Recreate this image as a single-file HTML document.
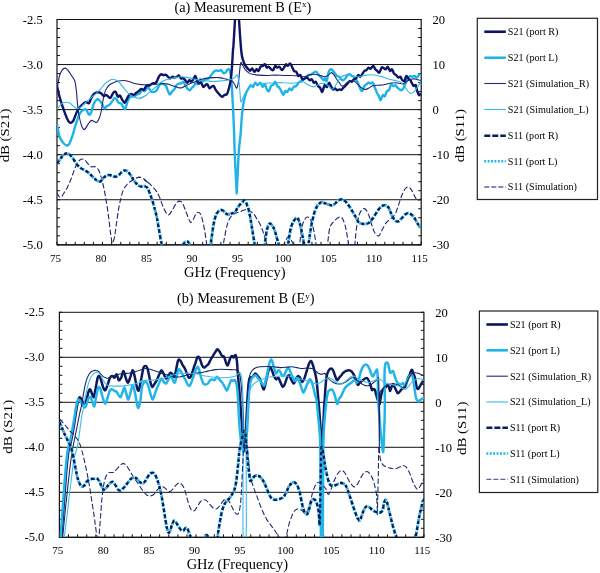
<!DOCTYPE html>
<html><head><meta charset="utf-8"><title>Measurement B</title>
<style>
html,body{margin:0;padding:0;background:#fff;}
body{width:600px;height:573px;overflow:hidden;font-family:"Liberation Serif",serif;}
svg{display:block;font-family:"Liberation Serif",serif;fill:#000;will-change:transform;opacity:0.9999;}
svg path, svg line, svg rect{shape-rendering:auto;}
</style></head><body>
<svg width="600" height="573" viewBox="0 0 600 573">
<rect x="0" y="0" width="600" height="573" fill="#fff" stroke="none"/>
<defs>
<clipPath id="ca"><rect x="57" y="19.5" width="364.2" height="225.3"/></clipPath>
<clipPath id="cb"><rect x="59.4" y="312.3" width="364.5" height="225"/></clipPath>
</defs>
<!-- chart (a) -->
<line x1="57" x2="421.2" y1="19.50" y2="19.50" stroke="#111" stroke-width="1"/>
<line x1="57" x2="421.2" y1="64.56" y2="64.56" stroke="#111" stroke-width="1"/>
<line x1="57" x2="421.2" y1="109.62" y2="109.62" stroke="#111" stroke-width="1"/>
<line x1="57" x2="421.2" y1="154.68" y2="154.68" stroke="#111" stroke-width="1"/>
<line x1="57" x2="421.2" y1="199.74" y2="199.74" stroke="#111" stroke-width="1"/>
<line x1="57" x2="421.2" y1="244.80" y2="244.80" stroke="#111" stroke-width="1"/>
<line x1="57" x2="57" y1="19.0" y2="245.3" stroke="#111" stroke-width="1.2"/>
<line x1="421.2" x2="421.2" y1="19.0" y2="245.3" stroke="#111" stroke-width="1.2"/>
<line x1="57" x2="421.2" y1="244.8" y2="244.8" stroke="#111" stroke-width="1.3"/>
<line x1="57" x2="60" y1="19.50" y2="19.50" stroke="#111" stroke-width="1"/>
<line x1="418.2" x2="421.2" y1="19.50" y2="19.50" stroke="#111" stroke-width="1"/>
<line x1="57" x2="60" y1="28.51" y2="28.51" stroke="#111" stroke-width="1"/>
<line x1="418.2" x2="421.2" y1="28.51" y2="28.51" stroke="#111" stroke-width="1"/>
<line x1="57" x2="60" y1="37.52" y2="37.52" stroke="#111" stroke-width="1"/>
<line x1="418.2" x2="421.2" y1="37.52" y2="37.52" stroke="#111" stroke-width="1"/>
<line x1="57" x2="60" y1="46.54" y2="46.54" stroke="#111" stroke-width="1"/>
<line x1="418.2" x2="421.2" y1="46.54" y2="46.54" stroke="#111" stroke-width="1"/>
<line x1="57" x2="60" y1="55.55" y2="55.55" stroke="#111" stroke-width="1"/>
<line x1="418.2" x2="421.2" y1="55.55" y2="55.55" stroke="#111" stroke-width="1"/>
<line x1="57" x2="60" y1="64.56" y2="64.56" stroke="#111" stroke-width="1"/>
<line x1="418.2" x2="421.2" y1="64.56" y2="64.56" stroke="#111" stroke-width="1"/>
<line x1="57" x2="60" y1="73.57" y2="73.57" stroke="#111" stroke-width="1"/>
<line x1="418.2" x2="421.2" y1="73.57" y2="73.57" stroke="#111" stroke-width="1"/>
<line x1="57" x2="60" y1="82.58" y2="82.58" stroke="#111" stroke-width="1"/>
<line x1="418.2" x2="421.2" y1="82.58" y2="82.58" stroke="#111" stroke-width="1"/>
<line x1="57" x2="60" y1="91.60" y2="91.60" stroke="#111" stroke-width="1"/>
<line x1="418.2" x2="421.2" y1="91.60" y2="91.60" stroke="#111" stroke-width="1"/>
<line x1="57" x2="60" y1="100.61" y2="100.61" stroke="#111" stroke-width="1"/>
<line x1="418.2" x2="421.2" y1="100.61" y2="100.61" stroke="#111" stroke-width="1"/>
<line x1="57" x2="60" y1="109.62" y2="109.62" stroke="#111" stroke-width="1"/>
<line x1="418.2" x2="421.2" y1="109.62" y2="109.62" stroke="#111" stroke-width="1"/>
<line x1="57" x2="60" y1="118.63" y2="118.63" stroke="#111" stroke-width="1"/>
<line x1="418.2" x2="421.2" y1="118.63" y2="118.63" stroke="#111" stroke-width="1"/>
<line x1="57" x2="60" y1="127.64" y2="127.64" stroke="#111" stroke-width="1"/>
<line x1="418.2" x2="421.2" y1="127.64" y2="127.64" stroke="#111" stroke-width="1"/>
<line x1="57" x2="60" y1="136.66" y2="136.66" stroke="#111" stroke-width="1"/>
<line x1="418.2" x2="421.2" y1="136.66" y2="136.66" stroke="#111" stroke-width="1"/>
<line x1="57" x2="60" y1="145.67" y2="145.67" stroke="#111" stroke-width="1"/>
<line x1="418.2" x2="421.2" y1="145.67" y2="145.67" stroke="#111" stroke-width="1"/>
<line x1="57" x2="60" y1="154.68" y2="154.68" stroke="#111" stroke-width="1"/>
<line x1="418.2" x2="421.2" y1="154.68" y2="154.68" stroke="#111" stroke-width="1"/>
<line x1="57" x2="60" y1="163.69" y2="163.69" stroke="#111" stroke-width="1"/>
<line x1="418.2" x2="421.2" y1="163.69" y2="163.69" stroke="#111" stroke-width="1"/>
<line x1="57" x2="60" y1="172.70" y2="172.70" stroke="#111" stroke-width="1"/>
<line x1="418.2" x2="421.2" y1="172.70" y2="172.70" stroke="#111" stroke-width="1"/>
<line x1="57" x2="60" y1="181.72" y2="181.72" stroke="#111" stroke-width="1"/>
<line x1="418.2" x2="421.2" y1="181.72" y2="181.72" stroke="#111" stroke-width="1"/>
<line x1="57" x2="60" y1="190.73" y2="190.73" stroke="#111" stroke-width="1"/>
<line x1="418.2" x2="421.2" y1="190.73" y2="190.73" stroke="#111" stroke-width="1"/>
<line x1="57" x2="60" y1="199.74" y2="199.74" stroke="#111" stroke-width="1"/>
<line x1="418.2" x2="421.2" y1="199.74" y2="199.74" stroke="#111" stroke-width="1"/>
<line x1="57" x2="60" y1="208.75" y2="208.75" stroke="#111" stroke-width="1"/>
<line x1="418.2" x2="421.2" y1="208.75" y2="208.75" stroke="#111" stroke-width="1"/>
<line x1="57" x2="60" y1="217.76" y2="217.76" stroke="#111" stroke-width="1"/>
<line x1="418.2" x2="421.2" y1="217.76" y2="217.76" stroke="#111" stroke-width="1"/>
<line x1="57" x2="60" y1="226.78" y2="226.78" stroke="#111" stroke-width="1"/>
<line x1="418.2" x2="421.2" y1="226.78" y2="226.78" stroke="#111" stroke-width="1"/>
<line x1="57" x2="60" y1="235.79" y2="235.79" stroke="#111" stroke-width="1"/>
<line x1="418.2" x2="421.2" y1="235.79" y2="235.79" stroke="#111" stroke-width="1"/>
<line x1="57" x2="60" y1="244.80" y2="244.80" stroke="#111" stroke-width="1"/>
<line x1="418.2" x2="421.2" y1="244.80" y2="244.80" stroke="#111" stroke-width="1"/>
<line x1="57.00" x2="57.00" y1="241.8" y2="244.8" stroke="#111" stroke-width="1"/>
<line x1="66.11" x2="66.11" y1="241.8" y2="244.8" stroke="#111" stroke-width="1"/>
<line x1="75.21" x2="75.21" y1="241.8" y2="244.8" stroke="#111" stroke-width="1"/>
<line x1="84.31" x2="84.31" y1="241.8" y2="244.8" stroke="#111" stroke-width="1"/>
<line x1="93.42" x2="93.42" y1="241.8" y2="244.8" stroke="#111" stroke-width="1"/>
<line x1="102.53" x2="102.53" y1="241.8" y2="244.8" stroke="#111" stroke-width="1"/>
<line x1="111.63" x2="111.63" y1="241.8" y2="244.8" stroke="#111" stroke-width="1"/>
<line x1="120.73" x2="120.73" y1="241.8" y2="244.8" stroke="#111" stroke-width="1"/>
<line x1="129.84" x2="129.84" y1="241.8" y2="244.8" stroke="#111" stroke-width="1"/>
<line x1="138.94" x2="138.94" y1="241.8" y2="244.8" stroke="#111" stroke-width="1"/>
<line x1="148.05" x2="148.05" y1="241.8" y2="244.8" stroke="#111" stroke-width="1"/>
<line x1="157.16" x2="157.16" y1="241.8" y2="244.8" stroke="#111" stroke-width="1"/>
<line x1="166.26" x2="166.26" y1="241.8" y2="244.8" stroke="#111" stroke-width="1"/>
<line x1="175.36" x2="175.36" y1="241.8" y2="244.8" stroke="#111" stroke-width="1"/>
<line x1="184.47" x2="184.47" y1="241.8" y2="244.8" stroke="#111" stroke-width="1"/>
<line x1="193.57" x2="193.57" y1="241.8" y2="244.8" stroke="#111" stroke-width="1"/>
<line x1="202.68" x2="202.68" y1="241.8" y2="244.8" stroke="#111" stroke-width="1"/>
<line x1="211.78" x2="211.78" y1="241.8" y2="244.8" stroke="#111" stroke-width="1"/>
<line x1="220.89" x2="220.89" y1="241.8" y2="244.8" stroke="#111" stroke-width="1"/>
<line x1="230.00" x2="230.00" y1="241.8" y2="244.8" stroke="#111" stroke-width="1"/>
<line x1="239.10" x2="239.10" y1="241.8" y2="244.8" stroke="#111" stroke-width="1"/>
<line x1="248.20" x2="248.20" y1="241.8" y2="244.8" stroke="#111" stroke-width="1"/>
<line x1="257.31" x2="257.31" y1="241.8" y2="244.8" stroke="#111" stroke-width="1"/>
<line x1="266.42" x2="266.42" y1="241.8" y2="244.8" stroke="#111" stroke-width="1"/>
<line x1="275.52" x2="275.52" y1="241.8" y2="244.8" stroke="#111" stroke-width="1"/>
<line x1="284.62" x2="284.62" y1="241.8" y2="244.8" stroke="#111" stroke-width="1"/>
<line x1="293.73" x2="293.73" y1="241.8" y2="244.8" stroke="#111" stroke-width="1"/>
<line x1="302.83" x2="302.83" y1="241.8" y2="244.8" stroke="#111" stroke-width="1"/>
<line x1="311.94" x2="311.94" y1="241.8" y2="244.8" stroke="#111" stroke-width="1"/>
<line x1="321.04" x2="321.04" y1="241.8" y2="244.8" stroke="#111" stroke-width="1"/>
<line x1="330.15" x2="330.15" y1="241.8" y2="244.8" stroke="#111" stroke-width="1"/>
<line x1="339.25" x2="339.25" y1="241.8" y2="244.8" stroke="#111" stroke-width="1"/>
<line x1="348.36" x2="348.36" y1="241.8" y2="244.8" stroke="#111" stroke-width="1"/>
<line x1="357.47" x2="357.47" y1="241.8" y2="244.8" stroke="#111" stroke-width="1"/>
<line x1="366.57" x2="366.57" y1="241.8" y2="244.8" stroke="#111" stroke-width="1"/>
<line x1="375.68" x2="375.68" y1="241.8" y2="244.8" stroke="#111" stroke-width="1"/>
<line x1="384.78" x2="384.78" y1="241.8" y2="244.8" stroke="#111" stroke-width="1"/>
<line x1="393.88" x2="393.88" y1="241.8" y2="244.8" stroke="#111" stroke-width="1"/>
<line x1="402.99" x2="402.99" y1="241.8" y2="244.8" stroke="#111" stroke-width="1"/>
<line x1="412.09" x2="412.09" y1="241.8" y2="244.8" stroke="#111" stroke-width="1"/>
<line x1="421.20" x2="421.20" y1="241.8" y2="244.8" stroke="#111" stroke-width="1"/>
<text x="42.8" y="23.80" text-anchor="end" font-size="12.6">-2.5</text>
<text x="42.8" y="68.86" text-anchor="end" font-size="12.6">-3.0</text>
<text x="42.8" y="113.92" text-anchor="end" font-size="12.6">-3.5</text>
<text x="42.8" y="158.98" text-anchor="end" font-size="12.6">-4.0</text>
<text x="42.8" y="204.04" text-anchor="end" font-size="12.6">-4.5</text>
<text x="42.8" y="249.10" text-anchor="end" font-size="12.6">-5.0</text>
<text x="432.5" y="23.80" font-size="12.6">20</text>
<text x="432.5" y="68.86" font-size="12.6">10</text>
<text x="432.5" y="113.92" font-size="12.6">0</text>
<text x="432.5" y="158.98" font-size="12.6">-10</text>
<text x="432.5" y="204.04" font-size="12.6">-20</text>
<text x="432.5" y="249.10" font-size="12.6">-30</text>
<text x="55.40" y="261.6" text-anchor="middle" font-size="11">75</text>
<text x="100.93" y="261.6" text-anchor="middle" font-size="11">80</text>
<text x="146.45" y="261.6" text-anchor="middle" font-size="11">85</text>
<text x="191.97" y="261.6" text-anchor="middle" font-size="11">90</text>
<text x="237.50" y="261.6" text-anchor="middle" font-size="11">95</text>
<text x="283.02" y="261.6" text-anchor="middle" font-size="11">100</text>
<text x="328.55" y="261.6" text-anchor="middle" font-size="11">105</text>
<text x="374.07" y="261.6" text-anchor="middle" font-size="11">110</text>
<text x="419.60" y="261.6" text-anchor="middle" font-size="11">115</text>
<text x="234.79999999999998" y="276.8" text-anchor="middle" font-size="14.45">GHz (Frequency)</text>
<text transform="translate(9.0,135.45000000000002) rotate(-90) scale(1,0.86)" text-anchor="middle" font-size="14.8">dB (S21)</text>
<text transform="translate(463.5,135.65) rotate(-90) scale(1,0.86)" text-anchor="middle" font-size="14.8">dB (S11)</text>
<text x="242.8" y="11.5" text-anchor="middle" font-size="14.3">(a) Measurement B (E<tspan font-size="9" dy="-4.5">x</tspan><tspan dy="4.5">)</tspan></text>
<g clip-path="url(#ca)">
<path d="M57.0,124.5C57.4,126.4 58.3,132.5 59.2,135.4C60.1,138.4 61.3,140.5 62.6,142.1C63.8,143.8 65.6,145.2 66.8,145.5C67.9,145.8 68.3,145.5 69.3,143.8C70.2,142.1 71.5,138.8 72.6,135.4C73.7,132.1 74.8,127.2 76.0,123.7C77.1,120.2 78.2,116.7 79.3,114.5C80.4,112.3 81.5,111.1 82.7,110.3C83.8,109.5 85.0,108.8 86.0,109.5C87.0,110.2 88.0,113.9 88.9,114.5C89.7,115.0 90.2,114.6 91.0,112.8C91.9,111.0 92.9,105.8 93.9,103.6C94.9,101.4 96.0,100.0 96.9,99.4C97.8,98.9 98.6,99.6 99.4,100.3C100.3,100.9 101.1,102.3 101.9,103.6C102.8,104.9 103.6,107.9 104.4,108.3C105.3,108.7 106.0,106.8 107.0,106.1C107.9,105.5 109.1,105.3 110.0,104.4C110.9,103.6 111.6,102.1 112.3,101.1C113.1,100.1 113.8,98.5 114.5,98.2C115.2,98.0 116.0,98.7 116.7,99.4C117.4,100.2 117.9,102.1 118.7,102.8C119.4,103.5 120.4,102.8 121.2,103.6C122.0,104.4 123.0,107.0 123.7,107.8C124.4,108.6 124.8,109.6 125.4,108.6C126.0,107.6 126.7,103.7 127.4,101.9C128.1,100.1 128.8,98.6 129.6,97.7C130.3,96.8 131.2,96.8 132.1,96.6C132.9,96.3 133.8,96.4 134.6,96.1C135.4,95.7 136.3,94.8 137.1,94.4C137.9,94.0 138.8,94.2 139.6,93.6C140.5,92.9 141.3,90.6 142.1,90.2C143.0,89.8 143.8,91.5 144.6,91.0C145.5,90.6 146.7,88.5 147.2,87.7C147.6,86.9 147.1,85.7 147.5,86.0C148.0,86.3 149.0,88.4 149.7,89.4C150.4,90.3 151.0,91.5 151.7,91.9C152.5,92.3 153.4,92.2 154.2,91.9C155.1,91.6 156.0,91.2 156.8,90.2C157.5,89.2 158.1,87.1 158.8,86.0C159.5,84.9 160.2,83.8 160.9,83.5C161.7,83.2 162.6,83.9 163.5,84.3C164.3,84.8 165.3,85.0 166.0,86.0C166.7,87.0 167.0,88.8 167.6,90.2C168.3,91.6 169.1,94.1 169.8,94.4C170.5,94.7 171.1,92.7 171.8,91.9C172.6,91.0 173.6,90.5 174.3,89.4C175.1,88.2 175.8,86.2 176.5,85.2C177.3,84.2 178.1,83.8 178.9,83.5C179.6,83.2 180.3,83.8 181.0,83.5C181.8,83.2 182.5,81.5 183.2,81.8C183.9,82.1 184.5,84.0 185.2,85.2C186.0,86.3 187.0,88.0 187.7,88.9C188.5,89.7 189.2,90.4 189.9,90.2C190.6,90.0 191.3,88.4 191.9,87.7C192.6,87.0 193.2,87.0 193.9,86.0C194.6,85.0 195.5,82.1 196.1,81.8C196.8,81.5 197.1,84.8 197.8,84.3C198.4,83.9 199.3,79.7 200.0,79.3C200.7,78.9 201.2,81.7 202.0,81.8C202.7,82.0 203.7,80.6 204.5,80.2C205.3,79.7 206.2,79.7 207.0,79.3C207.8,78.9 208.8,78.3 209.5,77.6C210.2,76.9 210.5,76.1 211.2,75.1C211.9,74.1 212.9,72.6 213.7,71.8C214.5,71.0 215.4,70.6 216.2,70.4C217.1,70.3 217.9,71.0 218.7,70.9C219.6,70.9 220.5,69.7 221.2,70.1C222.0,70.5 222.7,72.7 223.4,73.1C224.1,73.5 224.8,73.1 225.4,72.6C226.0,72.1 226.5,70.7 227.1,70.1C227.7,69.5 228.6,68.7 229.1,69.3C229.7,69.8 230.0,71.1 230.5,73.5C230.9,75.8 231.3,79.0 231.6,83.5C232.0,88.0 232.3,93.3 232.6,100.3C233.0,107.2 233.5,117.1 233.8,125.4C234.1,133.7 234.3,142.2 234.6,150.0C234.9,157.8 235.3,165.7 235.6,172.0C235.9,178.3 236.2,184.4 236.4,188.0C236.6,191.6 236.6,193.8 236.7,193.8C236.8,193.8 236.8,191.6 237.0,188.0C237.2,184.4 237.5,178.3 237.8,172.0C238.1,165.7 238.4,156.4 238.9,150.0C239.4,143.6 240.1,139.3 240.6,133.8C241.1,128.3 241.3,122.0 241.8,117.0C242.2,112.0 242.7,107.5 243.4,103.6C244.1,99.7 245.1,96.1 245.9,93.6C246.8,91.0 247.6,89.9 248.5,88.5C249.3,87.1 250.2,85.5 251.0,85.2C251.7,84.9 252.4,87.3 253.1,86.9C253.8,86.4 254.4,82.9 255.2,82.7C255.9,82.4 256.8,85.2 257.7,85.2C258.5,85.2 259.3,82.4 260.2,82.7C261.0,82.9 261.9,86.6 262.7,86.9C263.5,87.1 264.2,83.9 264.9,84.3C265.6,84.8 266.2,88.2 266.9,89.4C267.5,90.5 268.2,91.6 268.9,91.0C269.6,90.5 270.3,87.1 271.1,86.0C271.8,84.9 272.9,85.0 273.6,84.3C274.3,83.6 274.6,81.5 275.3,81.8C275.9,82.1 276.6,85.0 277.3,86.0C278.0,87.0 278.7,86.7 279.4,87.7C280.2,88.7 281.0,90.7 281.6,91.9C282.3,93.1 282.7,95.0 283.3,94.9C283.9,94.8 284.6,91.5 285.3,91.0C286.0,90.5 286.6,92.3 287.3,91.9C288.0,91.5 288.8,88.8 289.5,88.5C290.2,88.2 291.0,90.5 291.7,90.2C292.4,89.9 292.9,87.5 293.7,86.9C294.4,86.2 295.4,86.7 296.2,86.0C297.0,85.3 297.9,83.5 298.7,82.7C299.5,81.8 300.4,81.5 301.2,81.0C302.1,80.4 302.9,79.9 303.7,79.3C304.6,78.8 305.4,78.3 306.2,77.6C307.1,76.9 307.9,75.7 308.8,75.1C309.6,74.6 310.4,74.7 311.3,74.3C312.1,73.9 312.9,73.0 313.8,72.6C314.6,72.2 315.5,71.4 316.3,71.8C317.1,72.2 318.0,74.1 318.8,75.1C319.6,76.1 320.5,76.8 321.3,77.6C322.2,78.5 323.2,80.0 323.8,80.2C324.4,80.3 324.5,78.3 325.0,78.5C325.5,78.6 326.1,82.1 326.7,81.0C327.3,79.9 328.0,73.7 328.7,71.8C329.4,69.8 330.1,69.4 330.9,69.3C331.6,69.1 332.3,70.2 333.0,70.9C333.7,71.6 334.4,72.6 335.1,73.5C335.7,74.3 336.4,75.4 337.1,76.0C337.8,76.5 338.5,76.2 339.2,76.8C340.0,77.4 340.7,78.8 341.4,79.3C342.1,79.9 342.8,80.3 343.4,80.2C344.1,80.0 344.7,79.3 345.4,78.5C346.1,77.6 346.9,75.8 347.6,75.1C348.3,74.4 349.1,74.1 349.8,74.3C350.5,74.4 351.1,75.5 351.8,76.0C352.5,76.4 353.1,76.2 353.8,76.8C354.5,77.4 355.3,78.2 356.0,79.3C356.7,80.4 357.5,82.0 358.2,83.5C358.9,85.0 359.5,87.3 360.2,88.5C360.8,89.8 361.5,91.5 362.2,91.0C362.9,90.6 363.6,87.1 364.4,86.0C365.1,84.9 365.8,84.9 366.5,84.3C367.2,83.8 367.9,82.8 368.6,82.7C369.2,82.5 369.9,83.5 370.6,83.5C371.3,83.5 372.0,82.0 372.7,82.7C373.5,83.4 374.2,86.0 374.9,87.7C375.6,89.4 376.3,91.3 376.9,92.7C377.6,94.1 378.3,94.8 378.9,96.1C379.6,97.3 380.0,100.4 380.6,100.3C381.3,100.1 382.1,95.9 382.8,95.2C383.5,94.5 384.3,96.8 385.0,96.1C385.7,95.4 386.3,92.0 387.0,91.0C387.6,90.1 388.3,91.3 389.0,90.2C389.7,89.1 390.4,85.0 391.2,84.3C391.9,83.6 392.6,85.9 393.3,86.0C394.0,86.2 394.7,84.9 395.4,85.2C396.0,85.5 396.7,87.0 397.4,87.7C398.1,88.4 398.8,88.9 399.5,89.4C400.3,89.8 401.0,90.5 401.7,90.2C402.4,89.9 403.1,88.9 403.7,87.7C404.4,86.4 405.0,84.2 405.7,82.7C406.4,81.1 407.2,79.6 407.9,78.5C408.6,77.4 409.4,76.2 410.1,76.0C410.8,75.7 411.3,76.8 412.1,76.8C412.9,76.8 413.8,75.8 414.6,76.0C415.4,76.1 416.1,77.8 416.8,77.6C417.5,77.5 418.1,75.7 418.8,75.1C419.5,74.6 420.5,74.4 420.8,74.3" fill="none" stroke="#1eb3e8" stroke-width="2.4" stroke-linejoin="round" stroke-linecap="butt"/>
<path d="M57.0,86.0C57.5,88.1 58.7,94.0 60.1,98.6C61.4,103.2 63.7,109.9 65.1,113.7C66.5,117.4 67.4,119.7 68.4,121.2C69.4,122.7 70.1,123.0 70.9,122.9C71.8,122.7 72.5,122.2 73.5,120.4C74.4,118.5 75.8,114.1 76.8,112.0C77.8,109.9 78.2,109.2 79.3,107.8C80.4,106.4 82.4,104.6 83.5,103.6C84.6,102.6 85.1,102.0 86.0,101.9C86.9,101.9 88.0,103.8 88.9,103.3C89.7,102.7 90.2,100.1 91.0,98.6C91.9,97.0 92.8,94.9 93.9,93.9C95.0,92.8 96.5,92.3 97.7,92.2C98.9,92.1 100.1,92.6 101.1,93.2C102.1,93.9 103.1,95.8 103.9,96.1C104.8,96.3 105.3,94.8 106.1,94.9C106.9,95.0 107.9,96.4 108.6,96.9C109.4,97.4 109.9,98.4 110.6,97.7C111.4,97.0 112.5,93.7 113.3,92.7C114.2,91.7 114.9,91.2 115.7,91.9C116.4,92.5 117.1,96.0 117.8,96.6C118.6,97.2 119.3,95.1 120.0,95.6C120.7,96.0 121.3,98.2 122.0,99.4C122.8,100.6 123.8,102.6 124.5,102.8C125.2,102.9 125.5,101.5 126.2,100.3C126.9,99.1 127.9,96.6 128.7,95.6C129.6,94.5 130.4,94.0 131.2,93.9C132.1,93.8 132.9,95.1 133.8,94.9C134.6,94.7 135.4,93.4 136.3,92.7C137.1,92.1 137.9,91.7 138.8,91.0C139.6,90.4 140.5,89.1 141.3,88.9C142.1,88.7 143.0,90.3 143.8,89.9C144.6,89.4 145.3,86.7 146.3,86.0C147.3,85.3 148.8,85.9 149.7,85.5C150.7,85.1 151.2,83.9 152.1,83.5C153.0,83.1 154.3,83.5 155.1,83.2C155.9,82.8 156.1,82.6 156.8,81.5C157.4,80.4 158.1,78.0 158.8,76.8C159.5,75.6 160.2,74.6 160.9,74.3C161.7,74.0 162.6,75.0 163.5,75.1C164.3,75.2 165.2,74.5 166.0,74.8C166.7,75.1 167.4,76.2 168.1,76.8C168.8,77.4 169.4,78.5 170.2,78.5C170.9,78.5 171.9,76.9 172.7,76.8C173.4,76.7 174.1,77.6 174.8,77.6C175.5,77.6 176.2,77.2 176.9,76.8C177.5,76.4 178.2,75.2 178.9,75.5C179.6,75.7 180.3,78.0 181.0,78.5C181.8,78.9 182.5,77.9 183.2,78.1C183.9,78.4 184.6,79.4 185.2,80.2C185.9,80.9 186.5,82.7 187.2,82.7C187.9,82.7 188.8,80.3 189.4,80.2C190.1,80.0 190.4,82.0 191.1,81.8C191.7,81.7 192.6,80.3 193.3,79.3C194.0,78.3 194.7,75.8 195.3,76.0C195.9,76.1 196.3,78.9 197.0,80.2C197.6,81.4 198.3,83.1 199.0,83.5C199.7,83.9 200.4,82.1 201.1,82.7C201.9,83.2 202.6,86.4 203.3,86.9C204.0,87.3 204.7,85.6 205.3,85.2C206.0,84.8 206.6,83.8 207.3,84.3C208.0,84.8 208.8,87.8 209.5,88.2C210.2,88.6 211.0,86.9 211.7,86.5C212.4,86.2 213.0,85.5 213.7,86.0C214.4,86.6 215.0,88.7 215.7,89.9C216.4,91.0 217.2,91.8 217.9,92.7C218.6,93.6 219.4,94.5 220.1,95.2C220.8,95.9 221.3,97.0 222.1,96.9C222.8,96.8 223.8,95.3 224.6,94.9C225.4,94.5 226.1,95.2 226.8,94.4C227.4,93.6 227.9,92.0 228.4,90.2C229.0,88.4 229.6,86.0 230.1,83.5C230.6,81.0 231.0,78.2 231.3,75.1C231.6,72.1 231.8,69.3 232.1,65.1C232.4,60.9 232.7,53.3 233.0,50.0C233.2,46.7 233.2,50.1 233.5,45.0C233.8,39.9 234.6,26.2 235.0,19.5C235.4,12.8 235.7,9.9 236.0,5.0C236.3,0.1 236.7,-10.0 237.0,-10.0C237.3,-10.0 237.7,0.1 238.0,5.0C238.3,9.9 238.7,14.5 239.0,19.5C239.3,24.5 239.6,29.4 240.0,35.0C240.4,40.6 241.0,48.8 241.5,53.0C242.0,57.2 242.4,58.0 243.0,60.0C243.6,62.0 244.3,63.7 245.1,65.1C245.9,66.5 246.8,67.4 247.6,68.4C248.5,69.4 249.4,70.9 250.1,70.9C250.9,70.9 251.4,68.3 252.1,68.4C252.8,68.6 253.6,71.6 254.3,71.8C255.0,71.9 255.8,69.4 256.5,69.3C257.2,69.1 257.8,71.4 258.5,70.9C259.2,70.5 259.8,67.6 260.5,66.8C261.2,65.9 262.0,66.3 262.7,65.9C263.4,65.5 264.2,64.0 264.9,64.2C265.6,64.5 266.2,67.2 266.9,67.6C267.5,68.0 268.2,66.5 268.9,66.8C269.6,67.0 270.3,68.7 271.1,69.3C271.8,69.8 272.5,70.7 273.2,70.1C273.9,69.5 274.6,66.3 275.3,65.9C275.9,65.5 276.6,67.4 277.3,67.6C278.0,67.7 278.7,66.3 279.4,66.8C280.2,67.2 281.2,70.0 282.0,70.1C282.7,70.2 283.3,68.6 284.0,67.6C284.7,66.6 285.5,64.5 286.1,64.2C286.8,64.0 287.2,66.1 287.8,65.9C288.5,65.8 289.3,63.3 290.0,63.4C290.7,63.5 291.3,65.5 292.0,66.8C292.7,68.0 293.3,70.1 294.0,70.9C294.7,71.8 295.5,70.9 296.2,71.8C296.9,72.6 297.7,75.4 298.4,76.0C299.1,76.5 299.7,74.6 300.4,75.1C301.0,75.7 301.7,78.8 302.4,79.3C303.1,79.9 303.8,78.8 304.6,78.5C305.3,78.2 306.2,77.4 307.1,77.6C307.9,77.9 308.8,79.9 309.6,80.2C310.4,80.4 311.1,78.9 311.8,79.3C312.5,79.7 313.1,82.2 313.8,82.7C314.4,83.1 315.1,81.3 315.8,81.8C316.5,82.4 317.2,85.0 318.0,86.0C318.7,87.0 319.4,86.7 320.1,87.7C320.8,88.7 321.5,92.2 322.2,91.9C322.8,91.6 323.7,87.1 324.2,86.0C324.6,84.9 324.5,85.0 325.0,85.2C325.5,85.3 326.3,87.3 327.0,86.9C327.7,86.4 328.5,82.8 329.2,82.7C329.8,82.5 330.2,84.9 330.9,86.0C331.5,87.1 332.3,88.9 333.0,89.4C333.7,89.8 334.4,88.4 335.1,88.5C335.7,88.7 336.4,90.1 337.1,90.2C337.8,90.3 338.5,89.4 339.2,89.4C340.0,89.3 340.7,90.1 341.4,89.9C342.1,89.6 342.8,88.3 343.4,87.7C344.1,87.0 344.7,86.7 345.4,86.0C346.1,85.3 346.9,84.3 347.6,83.5C348.3,82.7 349.1,81.3 349.8,81.0C350.5,80.7 351.1,82.1 351.8,81.8C352.5,81.5 353.1,79.9 353.8,79.3C354.5,78.8 355.3,79.2 356.0,78.5C356.7,77.8 357.5,75.4 358.2,75.1C358.9,74.8 359.5,76.9 360.2,76.8C360.8,76.7 361.5,75.3 362.2,74.3C362.9,73.3 363.6,71.6 364.4,70.9C365.1,70.2 365.8,70.7 366.5,70.1C367.2,69.5 367.9,67.8 368.6,67.6C369.2,67.4 369.8,69.0 370.6,68.8C371.3,68.5 372.5,65.8 373.2,65.9C374.0,66.0 374.6,68.4 375.3,69.3C375.9,70.1 376.6,70.4 377.3,70.9C378.0,71.5 378.7,73.2 379.4,72.6C380.2,72.1 380.9,68.3 381.6,67.6C382.3,66.8 383.0,67.8 383.6,68.1C384.3,68.4 384.9,69.5 385.6,69.3C386.3,69.0 387.1,66.5 387.8,66.8C388.5,67.0 389.3,70.5 390.0,70.9C390.7,71.4 391.3,68.8 392.0,69.3C392.7,69.7 393.3,72.5 394.0,73.5C394.7,74.4 395.5,74.4 396.2,75.1C396.9,75.8 397.7,77.4 398.4,77.6C399.1,77.9 399.7,76.4 400.4,76.8C401.0,77.2 401.7,79.5 402.4,80.2C403.1,80.8 403.9,81.7 404.6,81.0C405.2,80.3 405.6,76.4 406.2,76.0C406.9,75.5 407.7,77.8 408.4,78.5C409.1,79.2 409.8,79.3 410.4,80.2C411.0,81.0 411.5,82.5 412.1,83.5C412.7,84.5 413.2,85.7 413.8,86.0C414.4,86.3 415.2,84.2 415.8,85.2C416.4,86.2 416.9,90.2 417.5,91.9C418.0,93.6 418.6,94.9 419.1,95.2C419.7,95.5 420.5,93.8 420.8,93.6" fill="none" stroke="#0c1466" stroke-width="2.4" stroke-linejoin="round" stroke-linecap="butt"/>
<path d="M57.0,90.2C57.4,88.0 58.4,80.2 59.2,76.8C60.1,73.5 61.0,71.6 62.1,70.1C63.1,68.6 64.3,68.0 65.4,68.1C66.5,68.2 67.4,69.6 68.4,70.9C69.5,72.3 70.7,74.3 71.8,76.0C72.8,77.6 74.0,78.3 74.8,81.0C75.6,83.6 76.0,87.8 76.5,91.9C76.9,95.9 77.2,101.1 77.6,105.3C78.1,109.5 78.6,113.5 79.3,117.0C80.0,120.5 81.0,124.1 81.8,126.2C82.7,128.3 83.5,129.6 84.3,129.6C85.2,129.6 86.0,127.4 86.9,126.2C87.7,125.0 88.5,123.3 89.4,122.4C90.2,121.4 91.0,120.5 91.9,120.4C92.7,120.2 93.6,121.4 94.4,121.7C95.2,122.0 96.1,123.0 96.9,122.4C97.7,121.7 98.7,119.6 99.4,117.8C100.1,116.1 100.5,114.6 101.1,112.0C101.6,109.3 102.2,105.0 102.8,101.9C103.3,98.9 103.7,95.9 104.4,93.6C105.1,91.2 106.0,89.2 107.0,87.7C107.9,86.2 109.0,85.3 110.3,84.3C111.6,83.4 113.1,82.7 114.5,82.2C115.9,81.6 117.1,81.3 118.7,81.0C120.2,80.7 122.0,80.4 123.7,80.5C125.4,80.6 127.1,81.0 128.7,81.5C130.4,81.9 132.1,82.7 133.8,83.2C135.4,83.6 137.1,84.1 138.8,84.3C140.5,84.6 141.9,84.8 143.8,84.8C145.7,84.8 147.9,84.4 150.1,84.3C152.2,84.3 154.5,84.5 156.8,84.3C159.0,84.2 161.5,83.5 163.5,83.5C165.4,83.5 166.8,83.9 168.5,84.3C170.2,84.8 171.8,85.5 173.5,86.0C175.2,86.6 177.1,87.4 178.5,87.7C179.9,88.0 180.8,88.0 181.9,87.7C183.0,87.4 183.8,86.7 185.2,86.0C186.6,85.3 188.6,84.2 190.3,83.5C191.9,82.8 193.3,82.5 195.3,81.8C197.2,81.1 200.0,79.9 202.0,79.3C203.9,78.7 205.3,78.4 207.0,78.1C208.7,77.9 210.1,77.7 212.0,77.6C214.0,77.6 216.8,77.5 218.7,77.6C220.7,77.8 222.1,78.1 223.8,78.5C225.4,78.8 227.4,79.4 228.8,79.8C230.2,80.2 231.2,80.2 232.1,81.0C233.1,81.7 233.9,83.1 234.6,84.3C235.4,85.5 236.1,88.9 236.8,88.2C237.5,87.5 238.2,83.2 238.7,80.2C239.2,77.1 239.4,73.0 239.7,70.1C240.1,67.2 240.4,63.4 240.9,62.6C241.4,61.7 241.9,64.0 242.6,65.1C243.3,66.2 244.1,68.0 245.1,69.3C246.1,70.5 247.2,71.8 248.5,72.6C249.7,73.5 251.0,73.9 252.6,74.3C254.3,74.7 256.1,74.9 258.5,75.1C260.9,75.3 264.1,75.5 266.9,75.5C269.7,75.5 272.5,75.1 275.3,75.1C278.0,75.1 280.8,75.4 283.6,75.5C286.4,75.5 289.5,75.4 292.0,75.5C294.5,75.5 296.7,75.7 298.7,76.0C300.7,76.2 302.1,76.9 303.7,76.8C305.4,76.7 307.1,75.5 308.8,75.1C310.4,74.7 312.1,74.3 313.8,74.3C315.5,74.3 317.1,74.8 318.8,75.1C320.5,75.5 322.8,76.2 323.8,76.5C324.9,76.7 324.2,77.0 325.0,76.8C325.8,76.6 327.3,75.8 328.4,75.1C329.4,74.4 330.4,72.6 331.4,72.6C332.3,72.6 333.3,74.0 334.2,75.1C335.1,76.2 335.9,78.1 336.7,79.3C337.6,80.6 338.4,81.5 339.2,82.7C340.1,83.8 340.9,85.6 341.8,86.0C342.6,86.4 343.4,85.7 344.3,85.2C345.1,84.6 345.8,83.4 346.8,82.7C347.8,82.0 348.9,81.3 350.1,81.0C351.4,80.7 352.9,80.3 354.3,81.0C355.7,81.7 357.1,83.9 358.5,85.2C359.9,86.4 361.4,87.8 362.7,88.5C363.9,89.2 364.9,89.5 366.0,89.4C367.2,89.2 368.1,88.3 369.4,87.7C370.6,87.0 372.0,85.9 373.6,85.5C375.1,85.1 376.9,85.3 378.6,85.2C380.3,85.1 382.0,85.1 383.6,84.8C385.3,84.6 387.0,83.9 388.7,83.5C390.3,83.1 392.0,82.7 393.7,82.7C395.4,82.6 397.0,83.0 398.7,83.2C400.4,83.3 402.1,84.0 403.7,83.5C405.4,83.0 407.1,80.9 408.8,80.2C410.4,79.4 412.2,78.9 413.8,78.8C415.3,78.8 416.8,79.5 418.0,79.8C419.1,80.1 420.3,80.4 420.8,80.5" fill="none" stroke="#1c2474" stroke-width="1.1" stroke-linejoin="round" stroke-linecap="butt"/>
<path d="M57.0,109.5C57.5,108.8 59.0,106.4 60.1,105.3C61.1,104.2 62.3,103.3 63.4,102.8C64.5,102.3 65.6,102.2 66.8,102.3C67.9,102.3 68.8,102.5 70.1,103.3C71.4,104.0 73.0,106.1 74.3,107.0C75.5,107.8 76.5,108.6 77.6,108.6C78.8,108.6 79.7,107.9 81.0,107.0C82.2,106.0 83.6,104.2 85.2,102.8C86.7,101.4 88.5,100.0 90.2,98.6C91.9,97.2 93.6,95.9 95.2,94.4C96.9,92.9 98.7,91.0 100.3,89.4C101.8,87.7 103.0,85.7 104.4,84.3C105.8,82.9 107.2,81.8 108.6,81.0C110.0,80.2 111.6,79.5 112.8,79.3C114.1,79.2 115.0,79.6 116.2,80.2C117.3,80.7 118.4,81.5 119.5,82.7C120.6,83.8 121.7,85.5 122.9,86.9C124.0,88.2 125.1,89.8 126.2,91.0C127.3,92.3 128.3,93.4 129.6,94.4C130.8,95.4 132.4,96.3 133.8,96.9C135.1,97.5 136.7,97.9 137.9,98.1C139.2,98.2 140.0,98.2 141.3,97.7C142.5,97.3 145.7,95.4 145.5,95.6C145.3,95.7 140.1,98.5 140.0,98.6C139.9,98.7 143.4,97.2 145.0,96.1C146.7,94.9 148.4,93.3 150.1,91.9C151.7,90.5 153.4,89.2 155.1,87.7C156.8,86.2 158.4,83.9 160.1,82.7C161.8,81.4 163.5,80.8 165.1,80.2C166.8,79.5 168.5,79.2 170.2,78.8C171.8,78.4 173.5,78.0 175.2,77.6C176.9,77.3 178.5,76.9 180.2,76.8C181.9,76.7 183.6,76.9 185.2,77.1C186.9,77.4 188.6,77.8 190.3,78.1C191.9,78.5 193.6,79.0 195.3,79.3C197.0,79.6 198.3,79.9 200.3,80.2C202.3,80.4 204.8,80.8 207.0,81.0C209.2,81.2 211.5,81.5 213.7,81.5C215.9,81.5 218.2,81.2 220.4,81.0C222.6,80.8 225.3,80.4 227.1,80.2C228.9,79.9 230.0,79.7 231.3,79.3C232.5,78.9 233.7,78.3 234.6,77.6C235.6,76.9 236.4,74.1 237.2,75.1C237.9,76.1 238.7,79.6 239.2,83.5C239.8,87.4 240.1,95.5 240.4,98.6C240.7,101.6 240.7,102.2 241.2,101.9C241.8,101.6 242.6,98.6 243.4,96.9C244.2,95.2 245.0,93.4 245.9,91.9C246.9,90.3 248.0,88.8 249.3,87.7C250.5,86.6 251.9,85.9 253.5,85.2C255.0,84.5 256.3,83.8 258.5,83.5C260.7,83.2 264.1,83.3 266.9,83.2C269.7,83.0 272.5,82.7 275.3,82.7C278.0,82.6 280.8,82.6 283.6,82.7C286.4,82.7 289.5,83.2 292.0,83.2C294.5,83.2 296.7,82.9 298.7,82.7C300.7,82.4 302.3,81.5 303.7,81.8C305.1,82.1 306.0,83.6 307.1,84.3C308.2,85.0 309.3,85.6 310.4,86.0C311.5,86.4 312.7,87.0 313.8,86.9C314.9,86.7 315.9,85.7 317.1,85.2C318.4,84.6 320.0,83.8 321.3,83.5C322.6,83.2 323.8,83.1 325.0,83.5C326.2,83.9 327.2,85.0 328.4,86.0C329.5,87.0 330.7,89.1 331.7,89.4C332.7,89.6 333.4,88.7 334.2,87.7C335.1,86.7 335.9,84.9 336.7,83.5C337.6,82.1 338.4,80.4 339.2,79.3C340.1,78.2 340.8,77.5 341.8,76.8C342.7,76.1 343.8,75.5 345.1,75.1C346.4,74.8 347.9,74.7 349.3,74.8C350.7,74.9 352.1,75.6 353.5,76.0C354.9,76.3 356.3,76.8 357.7,76.8C359.1,76.8 360.3,76.2 361.9,76.0C363.4,75.7 365.2,75.3 366.9,75.1C368.6,74.9 370.2,74.7 371.9,74.8C373.6,74.8 375.3,75.1 376.9,75.5C378.6,75.8 380.3,76.3 382.0,76.8C383.6,77.3 385.3,78.0 387.0,78.5C388.7,79.0 390.3,79.4 392.0,79.8C393.7,80.2 395.5,80.5 397.0,81.0C398.6,81.5 400.0,81.8 401.2,82.7C402.5,83.5 403.6,84.8 404.6,86.0C405.5,87.3 406.2,89.1 407.1,90.2C407.9,91.3 408.8,92.2 409.6,92.7C410.4,93.2 411.3,93.5 412.1,93.2C412.9,92.9 413.8,92.0 414.6,91.0C415.5,90.1 416.3,88.9 417.1,87.7C418.0,86.4 418.9,84.6 419.6,83.5C420.3,82.4 421.0,81.4 421.3,81.0" fill="none" stroke="#30b8ea" stroke-width="1.1" stroke-linejoin="round" stroke-linecap="butt"/>
<path d="M57.0,192.7C57.4,193.4 58.5,195.9 59.2,196.6C59.9,197.3 60.6,197.5 61.4,196.9C62.2,196.3 63.2,194.4 64.2,192.7C65.3,191.0 66.5,189.1 67.6,186.9C68.7,184.6 69.8,182.1 70.9,179.3C72.1,176.5 73.2,172.9 74.3,170.1C75.4,167.3 76.5,164.4 77.6,162.6C78.8,160.7 79.9,159.7 81.0,159.2C82.1,158.7 83.2,159.0 84.3,159.7C85.5,160.4 86.6,162.2 87.7,163.4C88.8,164.6 89.8,166.2 91.0,166.8C92.3,167.3 94.0,166.2 95.2,166.8C96.5,167.3 97.6,168.4 98.6,170.1C99.6,171.8 100.3,174.0 101.1,176.8C101.9,179.6 102.8,182.9 103.6,186.9C104.4,190.8 105.3,195.2 106.1,200.3C107.0,205.3 107.9,211.4 108.6,217.0C109.4,222.6 110.0,229.4 110.6,233.8C111.3,238.1 111.7,242.4 112.3,243.0C113.0,243.5 113.8,240.0 114.5,237.1C115.1,234.2 115.5,230.1 116.2,225.4C116.9,220.6 117.8,213.4 118.7,208.6C119.5,203.9 120.4,200.1 121.2,196.9C122.0,193.7 122.7,191.5 123.7,189.4C124.7,187.3 125.8,185.7 127.1,184.3C128.3,182.9 129.8,182.0 131.2,181.0C132.6,180.0 134.0,179.1 135.4,178.5C136.8,177.8 138.2,177.1 139.6,177.1C141.0,177.2 142.4,177.9 143.8,178.8C145.2,179.7 147.9,182.5 148.0,182.7C148.1,182.8 144.1,179.8 144.2,179.8C144.3,179.8 147.0,181.5 148.4,182.7C149.8,183.8 151.2,185.3 152.6,186.9C154.0,188.4 155.5,189.9 156.8,191.9C158.0,193.8 159.0,195.9 160.1,198.6C161.2,201.2 162.3,205.3 163.5,207.8C164.6,210.3 165.8,212.5 166.8,213.7C167.8,214.8 168.3,215.2 169.3,214.5C170.3,213.8 171.5,211.3 172.7,209.5C173.8,207.6 174.9,205.0 176.0,203.6C177.1,202.2 178.2,201.1 179.4,201.1C180.5,201.1 181.6,201.8 182.7,203.6C183.8,205.4 184.9,209.2 186.1,212.0C187.2,214.8 188.6,218.6 189.4,220.4C190.3,222.1 190.4,222.6 191.1,222.4C191.8,222.1 192.8,220.1 193.6,218.7C194.4,217.2 195.3,214.7 196.1,213.7C197.0,212.6 197.8,212.0 198.6,212.3C199.5,212.6 200.3,213.1 201.1,215.3C202.0,217.5 202.9,221.7 203.7,225.4C204.4,229.0 205.1,233.7 205.7,237.1C206.2,240.5 206.4,241.8 207.0,246.0C207.6,250.1 207.7,257.2 209.0,262.0C210.3,266.8 213.0,275.0 215.0,275.0C217.0,275.0 219.6,266.8 221.0,262.0C222.4,257.2 222.7,250.1 223.2,246.0C223.8,241.8 223.9,240.5 224.6,237.1C225.2,233.7 226.3,228.4 227.1,225.4C227.9,222.3 228.8,220.4 229.6,218.7C230.5,217.0 231.2,216.2 232.1,215.3C233.1,214.4 234.3,213.9 235.5,213.3C236.7,212.8 237.9,212.5 239.2,212.0C240.6,211.5 242.2,210.7 243.4,210.3C244.7,209.9 245.7,209.3 246.8,209.5C247.9,209.6 249.0,210.4 250.1,211.1C251.2,211.8 252.4,212.4 253.5,213.7C254.6,214.9 255.7,216.9 256.8,218.7C257.9,220.5 259.1,222.3 260.2,224.5C261.2,226.8 262.4,229.7 263.2,232.1C264.0,234.5 264.5,236.5 265.2,238.8C265.9,241.1 266.4,242.1 267.2,246.0C268.0,249.9 268.5,258.0 270.0,262.0C271.5,266.0 274.2,270.0 276.0,270.0C277.8,270.0 279.7,266.0 281.0,262.0C282.3,258.0 282.9,249.4 283.6,246.0C284.3,242.5 284.6,242.8 285.3,241.3C286.0,239.8 287.0,237.5 287.8,237.1C288.7,236.7 289.5,237.8 290.3,238.8C291.2,239.8 292.1,241.8 292.8,243.0C293.5,244.2 294.0,244.5 294.5,246.0C295.0,247.5 295.6,250.3 296.0,252.0C296.4,253.7 296.6,256.0 297.0,256.0C297.4,256.0 298.1,253.7 298.5,252.0C298.9,250.3 299.2,248.7 299.5,246.0C299.9,243.2 300.2,238.9 300.7,235.4C301.2,232.0 301.7,228.0 302.4,225.4C303.0,222.7 303.7,220.9 304.6,219.5C305.4,218.1 306.5,217.1 307.4,217.0C308.3,216.9 309.3,217.6 310.1,218.7C310.9,219.8 311.4,221.5 312.1,223.7C312.8,225.9 313.6,229.3 314.1,232.1C314.7,234.9 315.1,238.1 315.5,240.5C315.8,242.8 315.9,242.4 316.3,246.0C316.7,249.6 317.0,257.7 318.0,262.0C319.0,266.3 320.7,272.0 322.0,272.0C323.3,272.0 325.1,266.3 326.0,262.0C326.9,257.7 327.1,250.1 327.5,246.0C327.9,241.8 327.9,240.3 328.4,237.1C328.8,233.9 329.2,229.6 330.0,227.1C330.9,224.5 332.3,223.4 333.4,222.0C334.5,220.6 335.6,219.5 336.7,218.7C337.8,217.8 339.1,217.0 340.1,217.0C341.1,217.0 341.8,217.3 342.6,218.7C343.4,220.1 344.3,222.6 345.1,225.4C345.9,228.2 346.5,232.0 347.1,235.4C347.7,238.9 348.3,241.6 348.8,246.0C349.3,250.4 349.5,258.0 350.0,262.0C350.5,266.0 351.3,270.0 352.0,270.0C352.7,270.0 353.5,266.0 354.0,262.0C354.5,258.0 354.5,250.4 354.8,246.0C355.1,241.6 355.3,239.1 355.7,235.4C356.0,231.7 356.5,227.2 357.2,223.7C357.8,220.2 358.6,216.8 359.3,214.5C360.1,212.2 361.0,210.9 361.9,210.0C362.7,209.0 363.5,208.4 364.4,208.6C365.2,208.8 366.0,209.7 366.9,211.1C367.7,212.5 368.6,214.6 369.4,217.0C370.2,219.4 371.1,222.9 371.9,225.4C372.7,227.9 373.6,230.4 374.4,232.1C375.3,233.8 376.2,234.8 376.9,235.4C377.7,236.0 378.2,236.3 378.9,235.8C379.6,235.2 380.3,233.5 381.1,232.1C381.9,230.6 382.8,228.6 383.6,227.1C384.5,225.5 385.2,224.1 386.1,222.9C387.1,221.6 388.4,220.5 389.5,219.5C390.6,218.5 391.9,218.0 392.8,217.0C393.8,216.0 394.5,215.3 395.4,213.7C396.2,212.0 397.0,209.3 397.9,207.0C398.7,204.6 399.5,201.8 400.4,199.4C401.2,197.0 402.1,194.5 402.9,192.7C403.7,190.9 404.5,189.5 405.4,188.5C406.3,187.5 407.4,186.8 408.2,186.9C409.1,186.9 410.0,187.9 410.8,188.9C411.5,189.8 412.2,191.2 412.9,192.7C413.7,194.2 414.6,196.5 415.5,197.7C416.3,199.0 417.1,200.1 418.0,200.3C418.9,200.4 420.3,198.9 420.8,198.6" fill="none" stroke="#1d2372" stroke-width="1.1" stroke-linejoin="round" stroke-linecap="butt" stroke-dasharray="5.5 2.3"/>
<path d="M57.0,163.4C57.5,162.7 59.0,160.6 60.1,159.2C61.1,157.8 62.3,156.0 63.4,155.0C64.5,154.0 65.6,153.4 66.8,153.4C67.9,153.4 69.0,154.0 70.1,155.0C71.2,156.0 72.3,157.7 73.5,159.2C74.6,160.7 75.7,162.8 76.8,164.2C77.9,165.6 78.9,166.6 80.2,167.6C81.4,168.6 82.9,169.3 84.3,170.1C85.7,170.9 87.1,171.5 88.5,172.6C89.9,173.7 91.3,175.5 92.7,176.8C94.1,178.1 95.6,179.7 96.9,180.5C98.2,181.3 99.1,182.0 100.3,181.5C101.4,181.0 102.3,178.7 103.6,177.6C104.9,176.6 106.4,175.5 107.8,175.1C109.2,174.8 110.7,175.2 112.0,175.5C113.2,175.7 114.2,176.9 115.3,176.8C116.4,176.7 117.6,176.0 118.7,175.1C119.8,174.3 121.0,172.6 122.0,171.8C123.1,171.0 124.1,170.4 125.0,170.4C126.0,170.4 126.9,170.9 127.9,171.8C128.9,172.7 130.3,174.6 131.2,176.0C132.2,177.4 132.8,178.8 133.8,180.2C134.7,181.5 136.0,183.3 137.1,184.3C138.2,185.4 139.3,186.2 140.5,186.5C141.6,186.8 142.7,185.8 143.8,186.0C144.9,186.2 146.3,186.7 147.2,187.7C148.1,188.7 148.5,190.1 149.2,191.9C150.0,193.7 150.9,196.1 151.7,198.6C152.6,201.1 153.4,203.9 154.2,207.0C155.1,210.0 156.0,213.4 156.8,217.0C157.5,220.6 158.1,224.8 158.8,228.7C159.5,232.6 160.4,237.6 160.9,240.5C161.5,243.3 161.6,243.4 162.1,246.0C162.6,248.6 162.7,253.3 164.0,256.0C165.3,258.7 167.8,261.7 170.0,262.0C172.2,262.3 175.2,260.2 177.0,258.0C178.8,255.8 179.9,251.4 181.0,249.0C182.1,246.6 182.6,245.1 183.6,243.8C184.5,242.5 185.9,241.3 186.9,241.3C187.9,241.3 188.6,242.4 189.4,243.8C190.3,245.3 190.7,247.0 192.0,250.0C193.3,253.0 195.0,260.0 197.0,262.0C199.0,264.0 202.1,263.3 204.0,262.0C205.9,260.7 207.4,256.7 208.5,254.0C209.6,251.3 209.8,248.8 210.4,246.0C210.9,243.2 211.1,240.8 211.7,237.1C212.3,233.4 212.9,227.5 213.7,223.7C214.5,219.9 215.4,216.6 216.2,214.5C217.1,212.4 217.9,211.9 218.7,211.1C219.6,210.4 220.4,210.0 221.2,210.0C222.1,210.0 222.9,210.5 223.8,211.1C224.6,211.8 225.5,213.1 226.3,213.7C227.0,214.2 227.4,214.5 228.4,214.5C229.3,214.4 230.6,213.7 231.7,213.3C232.8,212.9 234.1,212.9 235.1,212.0C236.0,211.1 236.7,209.0 237.6,207.8C238.4,206.5 239.2,205.4 240.1,204.4C240.9,203.5 241.8,202.6 242.6,201.9C243.4,201.2 244.1,199.8 244.8,200.3C245.5,200.7 246.1,202.8 246.8,204.4C247.4,206.1 248.2,207.9 248.8,210.3C249.4,212.7 249.9,215.6 250.5,218.7C251.0,221.7 251.6,225.7 252.1,228.7C252.6,231.8 253.0,234.2 253.5,237.1C253.9,240.0 254.3,242.5 254.8,246.0C255.3,249.5 255.6,255.0 256.5,258.0C257.4,261.0 258.9,264.0 260.0,264.0C261.1,264.0 262.2,261.0 263.0,258.0C263.8,255.0 264.2,249.5 264.7,246.0C265.1,242.5 265.3,240.0 265.7,237.1C266.1,234.2 266.7,230.8 267.2,228.7C267.7,226.6 268.3,225.4 268.9,224.5C269.4,223.7 269.9,223.4 270.6,223.7C271.2,224.0 272.0,225.1 272.7,226.2C273.4,227.3 274.1,228.6 274.7,230.4C275.4,232.2 276.0,235.0 276.6,237.1C277.2,239.2 277.8,241.5 278.3,243.0C278.7,244.4 279.0,244.1 279.4,246.0C279.9,247.8 280.3,251.7 281.0,254.0C281.7,256.3 282.7,260.0 283.5,260.0C284.3,260.0 285.3,256.3 286.0,254.0C286.7,251.7 287.4,248.2 287.8,246.0C288.3,243.7 288.3,242.8 288.7,240.5C289.0,238.1 289.5,234.6 290.0,232.1C290.5,229.6 291.1,227.2 291.7,225.4C292.3,223.6 293.0,222.3 293.7,221.2C294.3,220.1 295.1,219.2 295.7,218.7C296.3,218.1 296.8,217.4 297.4,217.8C297.9,218.3 298.5,219.7 299.0,221.2C299.6,222.7 300.2,224.7 300.7,227.1C301.3,229.4 301.9,232.9 302.4,235.4C302.9,237.9 303.3,240.4 303.7,242.1C304.1,243.9 304.4,244.3 304.7,246.0C305.0,247.6 305.2,250.3 305.5,252.0C305.8,253.7 306.2,256.0 306.5,256.0C306.8,256.0 307.2,253.7 307.5,252.0C307.8,250.3 308.0,248.2 308.2,246.0C308.5,243.8 308.8,241.7 309.3,238.8C309.7,235.9 310.2,231.8 310.8,228.7C311.3,225.7 311.8,223.1 312.4,220.4C313.1,217.6 313.8,214.3 314.6,212.0C315.4,209.6 316.3,207.6 317.1,206.1C318.0,204.7 318.8,204.0 319.6,203.3C320.5,202.6 321.3,201.9 322.2,201.9C323.0,201.9 324.0,202.8 325.0,203.3C326.0,203.7 327.2,204.1 328.4,204.4C329.5,204.8 330.6,205.4 331.7,205.3C332.8,205.1 333.9,204.4 335.1,203.6C336.2,202.8 337.3,200.9 338.4,200.3C339.5,199.6 340.6,199.3 341.8,199.4C342.9,199.6 344.0,200.1 345.1,201.1C346.2,202.1 347.3,203.7 348.5,205.3C349.6,206.8 350.7,208.5 351.8,210.3C352.9,212.1 354.0,214.2 355.2,216.2C356.3,218.1 357.4,220.8 358.5,222.0C359.6,223.3 360.7,223.4 361.9,223.7C363.0,224.0 364.1,224.2 365.2,224.0C366.3,223.9 367.4,223.6 368.6,222.9C369.7,222.1 370.8,220.9 371.9,219.5C373.0,218.1 374.1,216.2 375.3,214.5C376.4,212.8 377.5,210.9 378.6,209.5C379.7,208.1 380.8,206.8 382.0,206.1C383.1,205.4 384.2,205.0 385.3,205.3C386.4,205.6 387.7,206.4 388.7,207.8C389.6,209.2 390.3,211.8 391.2,213.7C392.0,215.5 392.8,217.4 393.7,218.7C394.5,219.9 395.4,220.8 396.2,221.2C397.0,221.6 397.9,221.6 398.7,221.2C399.5,220.8 400.4,219.5 401.2,218.7C402.1,217.8 402.9,217.0 403.7,216.2C404.6,215.3 405.4,214.1 406.2,213.7C407.1,213.2 407.9,213.2 408.8,213.3C409.6,213.5 410.4,213.9 411.3,214.5C412.1,215.1 412.9,215.9 413.8,217.0C414.6,218.1 415.5,219.8 416.3,221.2C417.1,222.6 418.0,224.3 418.8,225.4C419.6,226.5 420.5,227.5 420.8,227.9" fill="none" stroke="#1eb3e8" stroke-width="3.0" stroke-linejoin="round" stroke-linecap="butt" stroke-dasharray="1.9 1.2"/>
<path d="M57.0,163.4C57.5,162.7 59.0,160.6 60.1,159.2C61.1,157.8 62.3,156.0 63.4,155.0C64.5,154.0 65.6,153.4 66.8,153.4C67.9,153.4 69.0,154.0 70.1,155.0C71.2,156.0 72.3,157.7 73.5,159.2C74.6,160.7 75.7,162.8 76.8,164.2C77.9,165.6 78.9,166.6 80.2,167.6C81.4,168.6 82.9,169.3 84.3,170.1C85.7,170.9 87.1,171.5 88.5,172.6C89.9,173.7 91.3,175.5 92.7,176.8C94.1,178.1 95.6,179.7 96.9,180.5C98.2,181.3 99.1,182.0 100.3,181.5C101.4,181.0 102.3,178.7 103.6,177.6C104.9,176.6 106.4,175.5 107.8,175.1C109.2,174.8 110.7,175.2 112.0,175.5C113.2,175.7 114.2,176.9 115.3,176.8C116.4,176.7 117.6,176.0 118.7,175.1C119.8,174.3 121.0,172.6 122.0,171.8C123.1,171.0 124.1,170.4 125.0,170.4C126.0,170.4 126.9,170.9 127.9,171.8C128.9,172.7 130.3,174.6 131.2,176.0C132.2,177.4 132.8,178.8 133.8,180.2C134.7,181.5 136.0,183.3 137.1,184.3C138.2,185.4 139.3,186.2 140.5,186.5C141.6,186.8 142.7,185.8 143.8,186.0C144.9,186.2 146.3,186.7 147.2,187.7C148.1,188.7 148.5,190.1 149.2,191.9C150.0,193.7 150.9,196.1 151.7,198.6C152.6,201.1 153.4,203.9 154.2,207.0C155.1,210.0 156.0,213.4 156.8,217.0C157.5,220.6 158.1,224.8 158.8,228.7C159.5,232.6 160.4,237.6 160.9,240.5C161.5,243.3 161.6,243.4 162.1,246.0C162.6,248.6 162.7,253.3 164.0,256.0C165.3,258.7 167.8,261.7 170.0,262.0C172.2,262.3 175.2,260.2 177.0,258.0C178.8,255.8 179.9,251.4 181.0,249.0C182.1,246.6 182.6,245.1 183.6,243.8C184.5,242.5 185.9,241.3 186.9,241.3C187.9,241.3 188.6,242.4 189.4,243.8C190.3,245.3 190.7,247.0 192.0,250.0C193.3,253.0 195.0,260.0 197.0,262.0C199.0,264.0 202.1,263.3 204.0,262.0C205.9,260.7 207.4,256.7 208.5,254.0C209.6,251.3 209.8,248.8 210.4,246.0C210.9,243.2 211.1,240.8 211.7,237.1C212.3,233.4 212.9,227.5 213.7,223.7C214.5,219.9 215.4,216.6 216.2,214.5C217.1,212.4 217.9,211.9 218.7,211.1C219.6,210.4 220.4,210.0 221.2,210.0C222.1,210.0 222.9,210.5 223.8,211.1C224.6,211.8 225.5,213.1 226.3,213.7C227.0,214.2 227.4,214.5 228.4,214.5C229.3,214.4 230.6,213.7 231.7,213.3C232.8,212.9 234.1,212.9 235.1,212.0C236.0,211.1 236.7,209.0 237.6,207.8C238.4,206.5 239.2,205.4 240.1,204.4C240.9,203.5 241.8,202.6 242.6,201.9C243.4,201.2 244.1,199.8 244.8,200.3C245.5,200.7 246.1,202.8 246.8,204.4C247.4,206.1 248.2,207.9 248.8,210.3C249.4,212.7 249.9,215.6 250.5,218.7C251.0,221.7 251.6,225.7 252.1,228.7C252.6,231.8 253.0,234.2 253.5,237.1C253.9,240.0 254.3,242.5 254.8,246.0C255.3,249.5 255.6,255.0 256.5,258.0C257.4,261.0 258.9,264.0 260.0,264.0C261.1,264.0 262.2,261.0 263.0,258.0C263.8,255.0 264.2,249.5 264.7,246.0C265.1,242.5 265.3,240.0 265.7,237.1C266.1,234.2 266.7,230.8 267.2,228.7C267.7,226.6 268.3,225.4 268.9,224.5C269.4,223.7 269.9,223.4 270.6,223.7C271.2,224.0 272.0,225.1 272.7,226.2C273.4,227.3 274.1,228.6 274.7,230.4C275.4,232.2 276.0,235.0 276.6,237.1C277.2,239.2 277.8,241.5 278.3,243.0C278.7,244.4 279.0,244.1 279.4,246.0C279.9,247.8 280.3,251.7 281.0,254.0C281.7,256.3 282.7,260.0 283.5,260.0C284.3,260.0 285.3,256.3 286.0,254.0C286.7,251.7 287.4,248.2 287.8,246.0C288.3,243.7 288.3,242.8 288.7,240.5C289.0,238.1 289.5,234.6 290.0,232.1C290.5,229.6 291.1,227.2 291.7,225.4C292.3,223.6 293.0,222.3 293.7,221.2C294.3,220.1 295.1,219.2 295.7,218.7C296.3,218.1 296.8,217.4 297.4,217.8C297.9,218.3 298.5,219.7 299.0,221.2C299.6,222.7 300.2,224.7 300.7,227.1C301.3,229.4 301.9,232.9 302.4,235.4C302.9,237.9 303.3,240.4 303.7,242.1C304.1,243.9 304.4,244.3 304.7,246.0C305.0,247.6 305.2,250.3 305.5,252.0C305.8,253.7 306.2,256.0 306.5,256.0C306.8,256.0 307.2,253.7 307.5,252.0C307.8,250.3 308.0,248.2 308.2,246.0C308.5,243.8 308.8,241.7 309.3,238.8C309.7,235.9 310.2,231.8 310.8,228.7C311.3,225.7 311.8,223.1 312.4,220.4C313.1,217.6 313.8,214.3 314.6,212.0C315.4,209.6 316.3,207.6 317.1,206.1C318.0,204.7 318.8,204.0 319.6,203.3C320.5,202.6 321.3,201.9 322.2,201.9C323.0,201.9 324.0,202.8 325.0,203.3C326.0,203.7 327.2,204.1 328.4,204.4C329.5,204.8 330.6,205.4 331.7,205.3C332.8,205.1 333.9,204.4 335.1,203.6C336.2,202.8 337.3,200.9 338.4,200.3C339.5,199.6 340.6,199.3 341.8,199.4C342.9,199.6 344.0,200.1 345.1,201.1C346.2,202.1 347.3,203.7 348.5,205.3C349.6,206.8 350.7,208.5 351.8,210.3C352.9,212.1 354.0,214.2 355.2,216.2C356.3,218.1 357.4,220.8 358.5,222.0C359.6,223.3 360.7,223.4 361.9,223.7C363.0,224.0 364.1,224.2 365.2,224.0C366.3,223.9 367.4,223.6 368.6,222.9C369.7,222.1 370.8,220.9 371.9,219.5C373.0,218.1 374.1,216.2 375.3,214.5C376.4,212.8 377.5,210.9 378.6,209.5C379.7,208.1 380.8,206.8 382.0,206.1C383.1,205.4 384.2,205.0 385.3,205.3C386.4,205.6 387.7,206.4 388.7,207.8C389.6,209.2 390.3,211.8 391.2,213.7C392.0,215.5 392.8,217.4 393.7,218.7C394.5,219.9 395.4,220.8 396.2,221.2C397.0,221.6 397.9,221.6 398.7,221.2C399.5,220.8 400.4,219.5 401.2,218.7C402.1,217.8 402.9,217.0 403.7,216.2C404.6,215.3 405.4,214.1 406.2,213.7C407.1,213.2 407.9,213.2 408.8,213.3C409.6,213.5 410.4,213.9 411.3,214.5C412.1,215.1 412.9,215.9 413.8,217.0C414.6,218.1 415.5,219.8 416.3,221.2C417.1,222.6 418.0,224.3 418.8,225.4C419.6,226.5 420.5,227.5 420.8,227.9" fill="none" stroke="#0b1c58" stroke-width="2.3" stroke-linejoin="round" stroke-linecap="butt" stroke-dasharray="3.3 2.5"/>
</g>
<!-- chart (b) -->
<line x1="59.4" x2="423.9" y1="312.30" y2="312.30" stroke="#111" stroke-width="1"/>
<line x1="59.4" x2="423.9" y1="357.30" y2="357.30" stroke="#111" stroke-width="1"/>
<line x1="59.4" x2="423.9" y1="402.30" y2="402.30" stroke="#111" stroke-width="1"/>
<line x1="59.4" x2="423.9" y1="447.30" y2="447.30" stroke="#111" stroke-width="1"/>
<line x1="59.4" x2="423.9" y1="492.30" y2="492.30" stroke="#111" stroke-width="1"/>
<line x1="59.4" x2="423.9" y1="537.30" y2="537.30" stroke="#111" stroke-width="1"/>
<line x1="59.4" x2="59.4" y1="311.8" y2="537.8" stroke="#111" stroke-width="1.2"/>
<line x1="423.9" x2="423.9" y1="311.8" y2="537.8" stroke="#111" stroke-width="1.2"/>
<line x1="59.4" x2="423.9" y1="537.3" y2="537.3" stroke="#111" stroke-width="1.3"/>
<line x1="59.4" x2="62.4" y1="312.30" y2="312.30" stroke="#111" stroke-width="1"/>
<line x1="420.9" x2="423.9" y1="312.30" y2="312.30" stroke="#111" stroke-width="1"/>
<line x1="59.4" x2="62.4" y1="321.30" y2="321.30" stroke="#111" stroke-width="1"/>
<line x1="420.9" x2="423.9" y1="321.30" y2="321.30" stroke="#111" stroke-width="1"/>
<line x1="59.4" x2="62.4" y1="330.30" y2="330.30" stroke="#111" stroke-width="1"/>
<line x1="420.9" x2="423.9" y1="330.30" y2="330.30" stroke="#111" stroke-width="1"/>
<line x1="59.4" x2="62.4" y1="339.30" y2="339.30" stroke="#111" stroke-width="1"/>
<line x1="420.9" x2="423.9" y1="339.30" y2="339.30" stroke="#111" stroke-width="1"/>
<line x1="59.4" x2="62.4" y1="348.30" y2="348.30" stroke="#111" stroke-width="1"/>
<line x1="420.9" x2="423.9" y1="348.30" y2="348.30" stroke="#111" stroke-width="1"/>
<line x1="59.4" x2="62.4" y1="357.30" y2="357.30" stroke="#111" stroke-width="1"/>
<line x1="420.9" x2="423.9" y1="357.30" y2="357.30" stroke="#111" stroke-width="1"/>
<line x1="59.4" x2="62.4" y1="366.30" y2="366.30" stroke="#111" stroke-width="1"/>
<line x1="420.9" x2="423.9" y1="366.30" y2="366.30" stroke="#111" stroke-width="1"/>
<line x1="59.4" x2="62.4" y1="375.30" y2="375.30" stroke="#111" stroke-width="1"/>
<line x1="420.9" x2="423.9" y1="375.30" y2="375.30" stroke="#111" stroke-width="1"/>
<line x1="59.4" x2="62.4" y1="384.30" y2="384.30" stroke="#111" stroke-width="1"/>
<line x1="420.9" x2="423.9" y1="384.30" y2="384.30" stroke="#111" stroke-width="1"/>
<line x1="59.4" x2="62.4" y1="393.30" y2="393.30" stroke="#111" stroke-width="1"/>
<line x1="420.9" x2="423.9" y1="393.30" y2="393.30" stroke="#111" stroke-width="1"/>
<line x1="59.4" x2="62.4" y1="402.30" y2="402.30" stroke="#111" stroke-width="1"/>
<line x1="420.9" x2="423.9" y1="402.30" y2="402.30" stroke="#111" stroke-width="1"/>
<line x1="59.4" x2="62.4" y1="411.30" y2="411.30" stroke="#111" stroke-width="1"/>
<line x1="420.9" x2="423.9" y1="411.30" y2="411.30" stroke="#111" stroke-width="1"/>
<line x1="59.4" x2="62.4" y1="420.30" y2="420.30" stroke="#111" stroke-width="1"/>
<line x1="420.9" x2="423.9" y1="420.30" y2="420.30" stroke="#111" stroke-width="1"/>
<line x1="59.4" x2="62.4" y1="429.30" y2="429.30" stroke="#111" stroke-width="1"/>
<line x1="420.9" x2="423.9" y1="429.30" y2="429.30" stroke="#111" stroke-width="1"/>
<line x1="59.4" x2="62.4" y1="438.30" y2="438.30" stroke="#111" stroke-width="1"/>
<line x1="420.9" x2="423.9" y1="438.30" y2="438.30" stroke="#111" stroke-width="1"/>
<line x1="59.4" x2="62.4" y1="447.30" y2="447.30" stroke="#111" stroke-width="1"/>
<line x1="420.9" x2="423.9" y1="447.30" y2="447.30" stroke="#111" stroke-width="1"/>
<line x1="59.4" x2="62.4" y1="456.30" y2="456.30" stroke="#111" stroke-width="1"/>
<line x1="420.9" x2="423.9" y1="456.30" y2="456.30" stroke="#111" stroke-width="1"/>
<line x1="59.4" x2="62.4" y1="465.30" y2="465.30" stroke="#111" stroke-width="1"/>
<line x1="420.9" x2="423.9" y1="465.30" y2="465.30" stroke="#111" stroke-width="1"/>
<line x1="59.4" x2="62.4" y1="474.30" y2="474.30" stroke="#111" stroke-width="1"/>
<line x1="420.9" x2="423.9" y1="474.30" y2="474.30" stroke="#111" stroke-width="1"/>
<line x1="59.4" x2="62.4" y1="483.30" y2="483.30" stroke="#111" stroke-width="1"/>
<line x1="420.9" x2="423.9" y1="483.30" y2="483.30" stroke="#111" stroke-width="1"/>
<line x1="59.4" x2="62.4" y1="492.30" y2="492.30" stroke="#111" stroke-width="1"/>
<line x1="420.9" x2="423.9" y1="492.30" y2="492.30" stroke="#111" stroke-width="1"/>
<line x1="59.4" x2="62.4" y1="501.30" y2="501.30" stroke="#111" stroke-width="1"/>
<line x1="420.9" x2="423.9" y1="501.30" y2="501.30" stroke="#111" stroke-width="1"/>
<line x1="59.4" x2="62.4" y1="510.30" y2="510.30" stroke="#111" stroke-width="1"/>
<line x1="420.9" x2="423.9" y1="510.30" y2="510.30" stroke="#111" stroke-width="1"/>
<line x1="59.4" x2="62.4" y1="519.30" y2="519.30" stroke="#111" stroke-width="1"/>
<line x1="420.9" x2="423.9" y1="519.30" y2="519.30" stroke="#111" stroke-width="1"/>
<line x1="59.4" x2="62.4" y1="528.30" y2="528.30" stroke="#111" stroke-width="1"/>
<line x1="420.9" x2="423.9" y1="528.30" y2="528.30" stroke="#111" stroke-width="1"/>
<line x1="59.4" x2="62.4" y1="537.30" y2="537.30" stroke="#111" stroke-width="1"/>
<line x1="420.9" x2="423.9" y1="537.30" y2="537.30" stroke="#111" stroke-width="1"/>
<line x1="59.40" x2="59.40" y1="534.3" y2="537.3" stroke="#111" stroke-width="1"/>
<line x1="68.51" x2="68.51" y1="534.3" y2="537.3" stroke="#111" stroke-width="1"/>
<line x1="77.62" x2="77.62" y1="534.3" y2="537.3" stroke="#111" stroke-width="1"/>
<line x1="86.74" x2="86.74" y1="534.3" y2="537.3" stroke="#111" stroke-width="1"/>
<line x1="95.85" x2="95.85" y1="534.3" y2="537.3" stroke="#111" stroke-width="1"/>
<line x1="104.96" x2="104.96" y1="534.3" y2="537.3" stroke="#111" stroke-width="1"/>
<line x1="114.07" x2="114.07" y1="534.3" y2="537.3" stroke="#111" stroke-width="1"/>
<line x1="123.19" x2="123.19" y1="534.3" y2="537.3" stroke="#111" stroke-width="1"/>
<line x1="132.30" x2="132.30" y1="534.3" y2="537.3" stroke="#111" stroke-width="1"/>
<line x1="141.41" x2="141.41" y1="534.3" y2="537.3" stroke="#111" stroke-width="1"/>
<line x1="150.53" x2="150.53" y1="534.3" y2="537.3" stroke="#111" stroke-width="1"/>
<line x1="159.64" x2="159.64" y1="534.3" y2="537.3" stroke="#111" stroke-width="1"/>
<line x1="168.75" x2="168.75" y1="534.3" y2="537.3" stroke="#111" stroke-width="1"/>
<line x1="177.86" x2="177.86" y1="534.3" y2="537.3" stroke="#111" stroke-width="1"/>
<line x1="186.97" x2="186.97" y1="534.3" y2="537.3" stroke="#111" stroke-width="1"/>
<line x1="196.09" x2="196.09" y1="534.3" y2="537.3" stroke="#111" stroke-width="1"/>
<line x1="205.20" x2="205.20" y1="534.3" y2="537.3" stroke="#111" stroke-width="1"/>
<line x1="214.31" x2="214.31" y1="534.3" y2="537.3" stroke="#111" stroke-width="1"/>
<line x1="223.43" x2="223.43" y1="534.3" y2="537.3" stroke="#111" stroke-width="1"/>
<line x1="232.54" x2="232.54" y1="534.3" y2="537.3" stroke="#111" stroke-width="1"/>
<line x1="241.65" x2="241.65" y1="534.3" y2="537.3" stroke="#111" stroke-width="1"/>
<line x1="250.76" x2="250.76" y1="534.3" y2="537.3" stroke="#111" stroke-width="1"/>
<line x1="259.88" x2="259.88" y1="534.3" y2="537.3" stroke="#111" stroke-width="1"/>
<line x1="268.99" x2="268.99" y1="534.3" y2="537.3" stroke="#111" stroke-width="1"/>
<line x1="278.10" x2="278.10" y1="534.3" y2="537.3" stroke="#111" stroke-width="1"/>
<line x1="287.21" x2="287.21" y1="534.3" y2="537.3" stroke="#111" stroke-width="1"/>
<line x1="296.32" x2="296.32" y1="534.3" y2="537.3" stroke="#111" stroke-width="1"/>
<line x1="305.44" x2="305.44" y1="534.3" y2="537.3" stroke="#111" stroke-width="1"/>
<line x1="314.55" x2="314.55" y1="534.3" y2="537.3" stroke="#111" stroke-width="1"/>
<line x1="323.66" x2="323.66" y1="534.3" y2="537.3" stroke="#111" stroke-width="1"/>
<line x1="332.77" x2="332.77" y1="534.3" y2="537.3" stroke="#111" stroke-width="1"/>
<line x1="341.89" x2="341.89" y1="534.3" y2="537.3" stroke="#111" stroke-width="1"/>
<line x1="351.00" x2="351.00" y1="534.3" y2="537.3" stroke="#111" stroke-width="1"/>
<line x1="360.11" x2="360.11" y1="534.3" y2="537.3" stroke="#111" stroke-width="1"/>
<line x1="369.22" x2="369.22" y1="534.3" y2="537.3" stroke="#111" stroke-width="1"/>
<line x1="378.34" x2="378.34" y1="534.3" y2="537.3" stroke="#111" stroke-width="1"/>
<line x1="387.45" x2="387.45" y1="534.3" y2="537.3" stroke="#111" stroke-width="1"/>
<line x1="396.56" x2="396.56" y1="534.3" y2="537.3" stroke="#111" stroke-width="1"/>
<line x1="405.67" x2="405.67" y1="534.3" y2="537.3" stroke="#111" stroke-width="1"/>
<line x1="414.79" x2="414.79" y1="534.3" y2="537.3" stroke="#111" stroke-width="1"/>
<line x1="423.90" x2="423.90" y1="534.3" y2="537.3" stroke="#111" stroke-width="1"/>
<text x="44.4" y="316.10" text-anchor="end" font-size="12.6">-2.5</text>
<text x="44.4" y="361.10" text-anchor="end" font-size="12.6">-3.0</text>
<text x="44.4" y="406.10" text-anchor="end" font-size="12.6">-3.5</text>
<text x="44.4" y="451.10" text-anchor="end" font-size="12.6">-4.0</text>
<text x="44.4" y="496.10" text-anchor="end" font-size="12.6">-4.5</text>
<text x="44.4" y="541.10" text-anchor="end" font-size="12.6">-5.0</text>
<text x="435.2" y="316.60" font-size="12.6">20</text>
<text x="435.2" y="361.60" font-size="12.6">10</text>
<text x="435.2" y="406.60" font-size="12.6">0</text>
<text x="435.2" y="451.60" font-size="12.6">-10</text>
<text x="435.2" y="496.60" font-size="12.6">-20</text>
<text x="435.2" y="541.60" font-size="12.6">-30</text>
<text x="57.80" y="554.0999999999999" text-anchor="middle" font-size="11">75</text>
<text x="103.36" y="554.0999999999999" text-anchor="middle" font-size="11">80</text>
<text x="148.93" y="554.0999999999999" text-anchor="middle" font-size="11">85</text>
<text x="194.49" y="554.0999999999999" text-anchor="middle" font-size="11">90</text>
<text x="240.05" y="554.0999999999999" text-anchor="middle" font-size="11">95</text>
<text x="285.61" y="554.0999999999999" text-anchor="middle" font-size="11">100</text>
<text x="331.17" y="554.0999999999999" text-anchor="middle" font-size="11">105</text>
<text x="376.74" y="554.0999999999999" text-anchor="middle" font-size="11">110</text>
<text x="422.30" y="554.0999999999999" text-anchor="middle" font-size="11">115</text>
<text x="237.34999999999997" y="569.3" text-anchor="middle" font-size="14.45">GHz (Frequency)</text>
<text transform="translate(12.100000000000001,426.79999999999995) rotate(-90) scale(1,0.86)" text-anchor="middle" font-size="14.8">dB (S21)</text>
<text transform="translate(466.2,428.29999999999995) rotate(-90) scale(1,0.86)" text-anchor="middle" font-size="14.8">dB (S11)</text>
<text x="245.7" y="303.2" text-anchor="middle" font-size="14.3">(b) Measurement B (E<tspan font-size="9" dy="-4.5">y</tspan><tspan dy="4.5">)</tspan></text>
<g clip-path="url(#cb)">
<path d="M61.3,538.0C61.6,533.2 62.6,519.4 63.4,509.0C64.2,498.6 65.1,485.2 65.9,475.5C66.7,465.8 67.6,456.6 68.4,451.0C69.2,445.4 70.1,445.2 70.8,442.0C71.5,438.8 72.1,435.7 72.8,432.0C73.5,428.3 74.1,424.2 74.8,420.0C75.5,415.8 76.2,410.3 76.8,407.0C77.4,403.7 77.8,401.6 78.2,400.0C78.7,398.4 79.0,397.6 79.5,397.3C80.0,397.0 80.5,397.7 81.0,398.4C81.5,399.1 82.0,400.8 82.6,401.7C83.1,402.6 83.6,404.0 84.3,403.6C85.0,403.2 85.8,401.4 86.5,399.5C87.2,397.5 87.9,393.6 88.5,391.9C89.1,390.3 89.6,389.1 90.2,389.4C90.8,389.7 91.3,392.3 91.9,393.6C92.5,394.9 93.3,397.8 93.9,397.0C94.5,396.1 94.9,391.8 95.6,388.6C96.2,385.4 97.1,379.8 97.7,377.7C98.4,375.6 98.9,375.6 99.4,376.0C100.0,376.4 100.4,378.2 101.1,380.2C101.7,382.2 102.6,386.1 103.3,387.7C104.0,389.4 104.5,390.8 105.3,390.3C106.0,389.7 107.0,386.5 107.8,384.4C108.6,382.3 109.2,379.1 110.0,377.7C110.7,376.3 111.6,376.0 112.3,376.0C113.1,376.0 113.8,378.0 114.5,377.7C115.2,377.4 116.0,373.9 116.7,374.3C117.4,374.8 117.9,379.6 118.7,380.2C119.4,380.8 120.4,379.2 121.2,377.7C122.0,376.2 122.6,371.0 123.4,371.0C124.1,371.0 125.0,375.7 125.7,377.7C126.5,379.6 127.1,382.9 127.9,382.7C128.7,382.6 129.6,378.9 130.4,376.9C131.2,374.8 131.9,370.3 132.6,370.2C133.3,370.0 133.9,373.2 134.6,376.0C135.3,378.8 136.1,384.5 136.8,386.9C137.5,389.3 138.0,391.6 138.8,390.3C139.5,388.9 140.5,382.3 141.3,378.5C142.1,374.8 142.8,369.7 143.5,367.6C144.2,365.5 144.8,365.8 145.5,366.0C146.1,366.1 146.7,365.8 147.5,368.5C148.3,371.1 149.6,378.8 150.4,381.9C151.1,384.9 151.4,386.5 152.1,386.9C152.7,387.3 153.5,385.5 154.2,384.4C155.0,383.3 155.9,381.9 156.8,380.2C157.6,378.5 158.5,376.0 159.3,374.3C160.0,372.7 160.7,370.3 161.4,370.2C162.1,370.0 162.7,372.1 163.5,373.5C164.2,374.9 165.2,378.1 166.0,378.5C166.7,378.9 167.4,377.0 168.1,376.0C168.9,375.0 169.7,372.9 170.5,372.7C171.2,372.4 172.0,373.6 172.7,374.3C173.3,375.0 173.8,377.5 174.3,376.9C174.9,376.2 175.4,372.9 176.0,370.2C176.7,367.4 177.4,361.6 178.2,360.1C178.9,358.6 179.8,360.1 180.5,360.9C181.3,361.8 182.0,363.9 182.7,365.1C183.4,366.4 184.2,367.1 184.9,368.5C185.6,369.9 186.2,372.0 186.9,373.5C187.6,375.0 188.2,377.3 188.9,377.7C189.6,378.1 190.4,377.4 191.1,376.0C191.8,374.6 192.6,371.4 193.3,369.3C194.0,367.2 194.5,365.5 195.3,363.5C196.0,361.4 197.0,357.4 197.8,356.8C198.6,356.1 199.3,357.9 200.0,359.3C200.7,360.7 201.3,363.7 202.0,365.1C202.6,366.5 203.3,367.5 204.0,367.6C204.7,367.8 205.4,366.5 206.2,366.0C206.9,365.4 207.6,365.3 208.3,364.3C209.0,363.3 209.6,361.5 210.4,360.1C211.1,358.7 212.1,357.2 212.9,355.9C213.6,354.7 214.3,353.7 215.0,352.6C215.8,351.4 216.6,349.4 217.4,349.2C218.1,349.1 218.8,350.6 219.6,351.7C220.3,352.8 221.3,355.1 222.1,355.9C222.8,356.8 223.4,355.5 224.1,356.8C224.8,358.0 225.6,362.1 226.3,363.5C226.9,364.8 227.3,366.0 227.9,365.1C228.6,364.3 229.5,360.0 230.1,358.4C230.8,356.9 231.2,356.1 231.8,355.9C232.4,355.8 232.9,357.7 233.5,357.6C234.1,357.4 234.9,354.7 235.5,355.1C236.0,355.5 236.4,357.0 236.8,360.1C237.2,363.2 237.4,367.9 237.8,373.5C238.3,379.1 239.0,386.6 239.6,393.6C240.2,400.6 240.8,409.7 241.2,415.4C241.6,421.1 241.8,423.7 242.1,428.0C242.4,432.3 242.8,437.3 243.2,441.0C243.6,444.7 244.1,450.2 244.5,450.0C244.9,449.8 245.3,445.0 245.6,440.0C245.9,435.0 246.2,427.2 246.5,420.0C246.8,412.8 247.2,403.3 247.6,397.0C248.0,390.6 248.4,385.1 248.8,381.9C249.2,378.7 249.5,378.5 250.1,377.7C250.8,376.9 251.8,377.5 252.6,376.9C253.5,376.2 254.3,373.6 255.2,373.5C256.0,373.4 256.8,375.0 257.7,376.0C258.5,377.0 259.4,377.7 260.2,379.4C260.9,381.0 261.6,384.4 262.2,386.1C262.8,387.7 263.3,389.8 263.9,389.4C264.4,389.0 264.9,386.2 265.5,383.6C266.2,380.9 267.0,376.2 267.7,373.5C268.4,370.8 269.2,368.2 269.9,367.6C270.6,367.1 271.2,368.8 271.9,370.2C272.6,371.5 273.2,374.5 273.9,376.0C274.6,377.5 275.4,379.1 276.1,379.4C276.8,379.6 277.6,377.3 278.3,377.7C279.0,378.1 279.5,380.3 280.3,381.9C281.0,383.4 282.0,386.6 282.8,386.9C283.6,387.2 284.3,385.1 285.0,383.6C285.7,382.0 286.3,379.1 287.0,377.7C287.6,376.3 288.3,374.9 289.0,375.2C289.7,375.5 290.4,378.0 291.2,379.4C291.9,380.8 292.9,383.4 293.7,383.6C294.4,383.7 295.0,381.5 295.7,380.2C296.4,378.9 297.1,376.4 297.9,376.0C298.6,375.6 299.3,376.7 300.0,377.7C300.8,378.7 301.6,381.9 302.4,381.9C303.1,381.9 303.8,379.5 304.6,377.7C305.3,375.9 306.0,373.2 306.7,371.0C307.4,368.8 308.1,366.0 308.8,364.3C309.4,362.6 310.1,361.1 310.8,360.9C311.4,360.8 311.8,361.6 312.4,363.5C313.1,365.3 314.1,369.2 314.8,372.0C315.5,374.8 315.9,375.7 316.5,380.0C317.1,384.3 317.7,392.2 318.2,398.0C318.7,403.8 319.2,409.3 319.6,415.0C320.0,420.7 320.4,426.7 320.8,432.0C321.2,437.3 321.5,447.0 321.9,447.0C322.3,447.0 322.6,438.2 323.0,432.0C323.4,425.8 323.6,417.0 324.0,410.0C324.4,403.0 324.9,395.5 325.3,390.0C325.7,384.5 326.0,380.2 326.5,377.0C327.0,373.8 327.7,372.4 328.4,371.0C329.1,369.6 330.1,368.6 330.9,368.5C331.6,368.3 332.3,368.9 333.0,370.2C333.7,371.4 334.4,374.3 335.1,376.0C335.7,377.7 336.4,379.9 337.1,380.2C337.8,380.5 338.5,378.5 339.2,377.7C340.0,376.9 340.7,376.0 341.4,375.2C342.1,374.3 342.7,373.4 343.4,372.7C344.2,372.0 345.1,371.4 345.9,371.0C346.8,370.6 347.6,370.2 348.5,370.2C349.3,370.2 350.2,370.4 351.0,371.0C351.7,371.5 352.4,372.4 353.1,373.5C353.8,374.6 354.6,376.3 355.2,377.7C355.7,379.1 356.0,380.8 356.5,382.0C357.0,383.2 357.4,384.9 358.0,385.0C358.6,385.1 359.2,383.2 360.0,382.5C360.8,381.8 361.7,381.2 362.5,380.5C363.3,379.8 364.2,378.9 365.0,378.5C365.8,378.1 366.3,377.6 367.0,378.0C367.7,378.4 368.4,379.8 369.0,381.0C369.6,382.2 370.0,383.5 370.5,385.0C371.0,386.5 371.5,389.3 372.0,390.0C372.5,390.7 373.0,389.0 373.5,389.0C374.0,389.0 374.6,389.0 375.0,390.0C375.4,391.0 375.8,393.5 376.2,395.0C376.6,396.5 377.1,397.8 377.5,399.0C377.9,400.2 378.4,401.2 378.8,402.0C379.2,402.8 379.3,404.5 379.6,404.0C379.9,403.5 380.1,401.0 380.5,399.0C380.9,397.0 381.4,393.7 382.0,392.0C382.6,390.3 383.3,389.8 384.0,389.0C384.7,388.2 385.4,387.7 386.0,387.0C386.6,386.3 387.0,385.0 387.5,385.0C388.0,385.0 388.6,386.0 389.0,387.0C389.4,388.0 389.6,391.0 390.0,391.0C390.4,391.0 391.0,388.2 391.5,387.0C392.0,385.8 392.5,384.0 393.0,384.0C393.5,384.0 394.0,386.0 394.5,387.0C395.0,388.0 395.5,389.0 396.0,390.0C396.5,391.0 397.0,392.6 397.5,393.0C398.0,393.4 398.4,393.0 399.0,392.5C399.6,392.0 400.3,390.8 401.0,390.0C401.7,389.2 402.3,388.5 403.0,388.0C403.7,387.5 404.4,387.8 405.0,387.0C405.6,386.2 406.0,384.5 406.5,383.0C407.0,381.5 407.5,379.3 408.0,378.0C408.5,376.7 409.0,376.2 409.5,375.0C410.0,373.8 410.6,371.8 411.0,371.0C411.4,370.2 411.8,369.5 412.2,370.0C412.6,370.5 413.0,372.7 413.5,374.0C414.0,375.3 414.5,375.7 415.0,378.0C415.5,380.3 416.2,386.0 416.8,387.7C417.4,389.5 417.9,389.0 418.5,388.6C419.1,388.2 419.8,386.3 420.5,385.2C421.1,384.1 421.8,382.9 422.5,381.9C423.2,380.9 424.3,379.8 424.7,379.4" fill="none" stroke="#0a1a5e" stroke-width="2.5" stroke-linejoin="round" stroke-linecap="butt"/>
<path d="M60.5,538.0C60.9,533.2 61.8,519.4 62.6,509.0C63.4,498.6 64.3,485.2 65.1,475.5C65.9,465.8 66.8,456.6 67.6,451.0C68.4,445.4 69.3,445.2 70.0,442.0C70.7,438.8 71.3,435.7 72.0,432.0C72.7,428.3 73.3,424.2 74.0,420.0C74.7,415.8 75.4,410.2 76.0,407.0C76.6,403.8 77.0,402.2 77.5,401.0C78.0,399.8 78.4,399.4 79.0,399.6C79.6,399.8 80.3,400.9 81.0,402.0C81.7,403.1 82.3,405.1 83.0,406.0C83.7,406.9 84.4,407.8 85.0,407.5C85.6,407.2 85.9,406.0 86.5,404.5C87.1,403.0 87.9,399.9 88.5,398.6C89.2,397.4 89.8,396.3 90.5,397.0C91.2,397.6 92.1,401.3 92.7,402.8C93.4,404.3 93.8,407.1 94.4,406.2C94.9,405.2 95.4,400.0 96.1,397.0C96.7,393.9 97.5,389.1 98.2,387.7C98.9,386.3 99.5,386.9 100.3,388.6C101.0,390.3 101.9,395.3 102.8,397.8C103.6,400.3 104.4,403.8 105.3,403.7C106.1,403.5 107.0,399.2 107.8,397.0C108.6,394.7 109.2,391.5 110.0,390.3C110.7,389.0 111.6,389.3 112.3,389.4C113.1,389.6 113.8,390.7 114.5,391.1C115.2,391.5 116.0,391.2 116.7,391.9C117.4,392.6 118.0,394.4 118.7,395.3C119.3,396.1 120.0,397.6 120.7,397.0C121.4,396.3 122.2,392.6 122.9,391.1C123.5,389.6 123.9,387.0 124.5,387.7C125.2,388.4 126.1,393.3 126.7,395.3C127.4,397.2 127.7,400.0 128.4,399.5C129.1,398.9 130.0,394.3 130.7,391.9C131.5,389.6 132.2,384.9 132.9,385.2C133.6,385.5 134.4,390.4 135.1,393.6C135.8,396.8 136.5,402.1 137.1,404.5C137.7,406.9 137.9,408.5 138.4,407.8C139.0,407.1 139.9,403.5 140.5,400.3C141.0,397.1 141.1,391.5 141.7,388.6C142.2,385.6 142.9,383.8 143.7,382.7C144.5,381.6 145.6,381.3 146.4,381.9C147.1,382.4 147.7,384.1 148.4,386.1C149.0,388.0 149.7,391.4 150.4,393.6C151.1,395.8 151.8,399.3 152.6,399.5C153.3,399.6 154.0,396.3 154.7,394.4C155.4,392.6 156.0,390.5 156.8,388.6C157.5,386.6 158.5,384.4 159.3,382.7C160.0,381.0 160.7,378.7 161.4,378.5C162.2,378.4 163.0,381.0 163.8,381.9C164.5,382.7 165.2,383.8 166.0,383.6C166.7,383.3 167.4,381.5 168.1,380.2C168.9,378.9 169.7,376.2 170.5,376.0C171.2,375.9 171.9,378.2 172.7,379.4C173.4,380.5 174.1,383.4 174.8,382.7C175.5,382.0 176.2,377.4 176.9,375.2C177.5,372.9 178.2,369.9 178.9,369.3C179.6,368.8 180.3,370.7 181.0,371.8C181.8,372.9 182.5,374.8 183.2,376.0C183.9,377.3 184.6,378.1 185.2,379.4C185.9,380.6 186.5,382.4 187.2,383.6C187.9,384.7 188.7,386.3 189.4,386.1C190.1,385.8 190.9,383.6 191.6,381.9C192.3,380.2 192.9,378.0 193.6,376.0C194.3,374.1 194.9,371.7 195.6,370.2C196.3,368.6 197.1,366.7 197.8,366.8C198.4,366.9 198.9,369.2 199.5,371.0C200.0,372.8 200.5,375.6 201.1,377.7C201.8,379.8 202.6,382.4 203.3,383.6C204.1,384.7 204.9,384.4 205.7,384.4C206.4,384.4 207.1,384.2 207.8,383.6C208.6,382.9 209.3,380.9 210.0,380.2C210.8,379.5 211.6,379.4 212.4,379.4C213.1,379.4 213.8,380.6 214.5,380.2C215.3,379.8 216.0,377.1 216.7,376.9C217.4,376.6 218.1,377.8 218.7,378.5C219.4,379.2 220.0,380.2 220.7,381.0C221.4,381.9 222.2,382.4 222.9,383.6C223.6,384.7 224.4,386.6 225.1,387.7C225.8,388.9 226.4,390.7 227.1,390.3C227.8,389.8 228.4,386.9 229.1,385.2C229.8,383.6 230.6,380.9 231.3,380.2C232.0,379.5 232.8,381.0 233.5,381.0C234.1,381.0 234.6,379.5 235.1,380.2C235.7,380.9 236.3,382.2 236.8,385.2C237.3,388.3 237.7,393.6 238.0,398.6C238.3,403.7 238.5,410.1 238.8,415.4C239.1,420.6 239.4,425.4 239.8,430.0C240.2,434.6 240.7,439.3 241.3,443.0C241.9,446.7 242.8,452.0 243.5,452.0C244.2,452.0 245.2,446.7 245.8,443.0C246.4,439.3 246.7,435.4 247.1,430.0C247.5,424.6 247.8,417.0 248.1,410.4C248.5,403.7 248.8,395.3 249.3,390.3C249.8,385.2 250.3,382.4 251.0,380.2C251.6,378.0 252.4,377.7 253.1,376.9C253.9,376.0 254.7,375.0 255.5,375.2C256.2,375.3 256.9,376.9 257.7,377.7C258.4,378.5 259.1,379.2 259.8,380.2C260.6,381.2 261.4,382.7 262.2,383.6C262.9,384.4 263.6,386.3 264.4,385.2C265.1,384.1 265.8,379.9 266.5,376.9C267.2,373.8 267.9,369.6 268.6,366.8C269.2,364.0 269.9,361.1 270.6,360.1C271.2,359.1 271.7,359.7 272.2,360.9C272.8,362.2 273.3,365.5 273.9,367.6C274.6,369.7 275.4,373.1 276.1,373.5C276.8,373.9 277.6,370.4 278.3,370.2C279.0,369.9 279.6,370.8 280.3,371.8C280.9,372.8 281.6,375.6 282.3,376.0C283.0,376.4 283.7,375.3 284.5,374.3C285.2,373.4 285.9,371.3 286.6,370.2C287.3,369.0 288.0,367.2 288.7,367.6C289.3,368.1 290.0,371.0 290.7,372.7C291.4,374.3 292.1,376.3 292.8,377.7C293.6,379.1 294.3,380.9 295.0,381.0C295.8,381.2 296.6,378.4 297.4,378.5C298.1,378.7 298.8,380.2 299.5,381.9C300.3,383.6 301.1,386.8 301.7,388.6C302.4,390.4 302.8,392.8 303.4,392.8C304.0,392.8 304.7,390.1 305.4,388.6C306.1,387.0 306.7,385.1 307.4,383.6C308.1,382.0 308.9,379.7 309.6,379.4C310.3,379.0 310.9,380.1 311.6,381.5C312.3,382.9 312.9,385.8 313.5,388.0C314.1,390.2 314.5,393.0 315.0,395.0C315.5,397.0 315.9,395.8 316.5,400.0C317.1,404.2 317.9,413.8 318.5,420.0C319.1,426.2 319.6,428.7 320.0,437.0C320.4,445.3 320.4,453.2 320.6,470.0C320.8,486.8 320.7,526.7 321.0,538.0C321.3,549.3 322.2,549.3 322.6,538.0C323.0,526.7 323.0,486.8 323.1,470.0C323.2,453.2 323.2,446.2 323.5,437.0C323.8,427.8 324.5,421.2 325.0,415.0C325.5,408.8 326.0,403.8 326.5,400.0C327.0,396.2 327.4,393.7 328.0,392.0C328.6,390.3 329.3,390.4 330.0,390.0C330.7,389.6 331.3,389.0 332.0,389.5C332.7,390.0 333.3,391.2 334.0,393.0C334.7,394.8 335.4,398.2 336.0,400.0C336.6,401.8 337.0,404.2 337.5,404.0C338.0,403.8 338.4,400.2 339.0,399.0C339.6,397.8 340.3,397.7 341.0,396.5C341.7,395.3 342.3,393.4 343.0,392.0C343.7,390.6 344.2,389.2 345.0,388.0C345.8,386.8 347.0,385.8 348.0,385.0C349.0,384.2 349.9,383.8 351.0,383.0C352.1,382.2 353.3,380.2 354.3,380.2C355.3,380.2 356.1,382.7 356.8,382.7C357.5,382.7 357.8,382.2 358.5,380.2C359.2,378.2 360.2,373.4 361.0,371.0C361.8,368.6 362.7,367.1 363.5,366.0C364.3,364.9 365.2,364.5 366.0,364.5C366.8,364.5 367.3,365.1 368.0,366.0C368.7,366.9 369.4,368.6 370.0,370.0C370.6,371.4 371.0,373.4 371.5,374.5C372.0,375.6 372.5,376.7 373.0,376.5C373.5,376.3 374.0,374.4 374.5,373.5C375.0,372.6 375.6,371.6 376.0,371.0C376.4,370.4 376.9,368.5 377.2,370.0C377.5,371.5 377.6,375.0 377.8,380.0C378.0,385.0 377.9,394.2 378.2,400.0C378.4,405.8 378.8,409.2 379.3,415.0C379.8,420.8 380.4,428.8 381.0,435.0C381.6,441.2 382.7,452.8 383.2,452.0C383.7,451.2 383.9,437.0 384.2,430.0C384.5,423.0 384.7,415.8 384.8,410.0C384.9,404.2 384.9,400.0 384.8,395.0C384.8,390.0 384.5,384.5 384.5,380.0C384.5,375.5 384.6,370.8 384.8,368.0C385.0,365.2 385.2,364.4 385.5,363.5C385.8,362.6 386.4,362.5 386.8,362.5C387.2,362.5 387.6,362.6 388.0,363.5C388.4,364.4 388.7,366.5 389.0,368.0C389.3,369.5 389.6,371.8 390.0,372.5C390.4,373.2 391.0,372.2 391.5,372.0C392.0,371.8 392.6,370.7 393.0,371.0C393.4,371.3 393.6,372.8 394.0,374.0C394.4,375.2 395.0,377.2 395.5,378.5C396.0,379.8 396.4,381.1 397.0,382.0C397.6,382.9 398.3,383.6 399.0,384.0C399.7,384.4 400.3,384.7 401.0,384.5C401.7,384.3 402.4,382.8 403.0,383.0C403.6,383.2 404.0,385.3 404.5,385.5C405.0,385.7 405.5,384.9 406.0,384.0C406.5,383.1 406.9,381.3 407.5,380.0C408.1,378.7 408.8,376.9 409.5,376.0C410.2,375.1 410.9,374.2 411.5,374.5C412.1,374.8 412.5,375.8 413.0,378.0C413.5,380.2 414.0,384.8 414.5,388.0C415.0,391.2 415.3,394.8 415.8,397.0C416.3,399.1 416.8,400.6 417.5,401.1C418.1,401.7 418.9,400.7 419.6,400.3C420.4,399.9 421.3,399.2 422.2,398.6C423.0,398.1 424.2,397.2 424.7,397.0" fill="none" stroke="#22b5ea" stroke-width="2.5" stroke-linejoin="round" stroke-linecap="butt"/>
<path d="M62.6,538.0C63.1,533.2 64.5,518.0 65.4,509.0C66.3,500.0 67.3,491.4 68.1,483.9C68.9,476.4 69.7,469.4 70.4,463.8C71.1,458.2 71.6,454.5 72.4,450.0C73.2,445.5 74.1,441.7 75.0,437.0C75.9,432.3 77.2,426.2 78.0,422.0C78.8,417.8 79.3,415.1 80.0,412.0C80.7,408.9 81.4,406.6 82.0,403.5C82.6,400.4 82.9,396.9 83.5,393.6C84.1,390.3 84.8,386.4 85.5,383.6C86.2,380.8 86.9,378.7 87.7,376.9C88.5,375.0 89.3,373.7 90.2,372.7C91.1,371.6 92.2,371.0 93.2,370.7C94.2,370.3 95.2,370.3 96.1,370.5C97.0,370.6 97.7,370.8 98.6,371.5C99.4,372.1 100.3,373.4 101.1,374.3C101.9,375.2 102.6,376.2 103.6,376.9C104.6,377.5 105.8,378.1 107.0,378.2C108.1,378.2 109.0,377.6 110.3,377.2C111.6,376.7 113.1,376.0 114.5,375.5C115.9,375.0 117.1,374.7 118.7,374.3C120.2,374.0 122.0,373.7 123.7,373.5C125.4,373.3 127.1,373.4 128.7,373.2C130.4,372.9 132.1,372.6 133.8,372.2C135.4,371.7 137.1,371.0 138.8,370.5C140.5,369.9 143.6,368.9 143.8,368.8C144.0,368.8 139.8,370.2 140.0,370.2C140.2,370.1 143.4,368.6 145.0,368.5C146.7,368.3 148.4,368.9 150.1,369.3C151.7,369.7 153.4,370.4 155.1,371.0C156.8,371.5 158.4,372.1 160.1,372.7C161.8,373.2 163.5,373.8 165.1,374.3C166.8,374.9 168.5,375.6 170.2,376.0C171.8,376.4 173.5,376.7 175.2,376.9C176.9,377.0 178.5,377.1 180.2,376.9C181.9,376.6 183.6,375.9 185.2,375.5C186.9,375.1 188.6,374.7 190.3,374.3C191.9,373.9 193.6,373.4 195.3,373.2C197.0,372.9 198.6,372.9 200.3,372.7C202.0,372.4 203.7,372.2 205.3,371.8C207.0,371.5 208.7,370.8 210.4,370.5C212.0,370.1 213.7,369.8 215.4,369.6C217.1,369.5 218.7,369.3 220.4,369.3C222.1,369.3 223.8,369.4 225.4,369.5C227.1,369.5 228.8,369.6 230.5,369.6C232.1,369.7 234.4,369.7 235.5,369.8C236.5,369.9 236.1,369.7 236.7,370.2C237.4,370.6 238.5,370.7 239.2,372.7C239.9,374.6 240.4,377.5 240.9,381.9C241.4,386.2 241.8,393.0 242.3,398.6C242.7,404.2 243.1,408.5 243.4,415.4C243.7,422.3 243.8,433.9 244.0,440.0C244.2,446.1 244.5,452.0 244.8,452.0C245.1,452.0 245.3,446.1 245.6,440.0C245.9,433.9 246.2,422.3 246.4,415.4C246.7,408.5 246.9,403.9 247.3,398.6C247.6,393.3 248.0,387.5 248.5,383.6C248.9,379.6 249.2,377.3 249.8,375.2C250.3,373.1 250.9,372.2 251.8,371.0C252.7,369.8 253.8,368.8 255.2,368.1C256.5,367.4 258.2,367.1 260.2,366.8C262.1,366.5 264.6,366.5 266.9,366.5C269.1,366.5 271.3,366.6 273.6,366.8C275.8,367.0 278.0,367.6 280.3,367.6C282.5,367.7 285.0,367.3 287.0,367.1C288.9,367.0 290.3,366.7 292.0,366.8C293.7,366.9 295.4,367.4 297.0,367.6C298.7,367.9 300.4,368.4 302.1,368.5C303.7,368.6 305.4,368.1 307.1,368.1C308.8,368.1 310.7,368.0 312.1,368.5C313.5,369.0 314.3,370.2 315.5,371.0C316.6,371.8 317.7,372.9 318.8,373.5C319.9,374.1 321.1,374.3 322.2,374.3C323.2,374.3 324.0,372.8 325.0,373.5C326.0,374.2 327.1,377.1 328.4,378.5C329.6,379.9 331.1,381.0 332.5,381.9C333.9,382.7 335.3,383.2 336.7,383.6C338.1,383.9 339.5,384.1 340.9,383.9C342.3,383.7 343.7,383.0 345.1,382.2C346.5,381.5 348.0,380.1 349.3,379.4C350.5,378.6 351.5,377.7 352.6,377.7C353.8,377.7 354.7,378.5 356.0,379.4C357.2,380.2 358.8,381.7 360.2,382.7C361.6,383.7 363.0,384.8 364.4,385.2C365.7,385.7 367.0,385.8 368.2,385.6C369.5,385.3 370.7,384.6 371.9,383.9C373.1,383.1 374.3,381.8 375.3,381.0C376.2,380.3 377.0,379.5 377.6,379.2C378.2,378.9 378.4,375.5 378.6,379.0C378.8,382.5 378.9,388.3 379.0,400.0C379.1,411.7 379.2,449.0 379.3,449.0C379.4,449.0 379.5,409.5 379.6,400.0C379.8,390.5 379.9,393.6 380.2,392.0C380.5,390.4 380.6,391.2 381.2,390.5C381.8,389.8 382.7,388.6 383.6,387.7C384.6,386.9 385.6,385.9 387.0,385.2C388.4,384.6 390.3,384.0 392.0,383.9C393.7,383.7 395.5,383.9 397.0,384.4C398.6,384.9 400.0,386.5 401.2,386.9C402.5,387.3 403.6,387.7 404.6,386.9C405.5,386.1 406.2,383.6 407.1,381.9C407.9,380.2 408.8,378.2 409.6,376.9C410.4,375.5 411.1,374.2 412.1,373.5C413.1,372.8 414.3,372.7 415.5,372.7C416.6,372.7 417.7,373.1 418.8,373.5C419.9,373.9 421.1,374.8 422.2,375.2C423.2,375.6 424.5,375.9 425.0,376.0" fill="none" stroke="#1a2668" stroke-width="1.1" stroke-linejoin="round" stroke-linecap="butt"/>
<path d="M64.2,538.0C64.6,534.6 66.0,524.5 66.8,517.4C67.6,510.3 68.5,502.6 69.3,495.6C70.1,488.6 71.0,481.9 71.8,475.5C72.6,469.1 73.5,461.4 74.3,457.1C75.1,452.9 75.8,452.9 76.5,450.0C77.2,447.1 77.8,444.2 78.5,440.0C79.2,435.8 79.9,429.2 80.5,425.0C81.1,420.8 81.5,417.8 82.0,415.0C82.5,412.2 83.1,410.2 83.5,408.0C83.9,405.8 83.9,404.4 84.3,402.0C84.7,399.6 85.4,396.2 86.0,393.6C86.6,391.0 87.1,388.5 87.7,386.1C88.3,383.7 89.1,381.2 89.9,379.4C90.6,377.5 91.4,376.3 92.2,375.2C93.0,374.1 94.0,373.2 94.9,372.7C95.8,372.2 96.8,371.9 97.7,372.2C98.6,372.4 99.4,373.1 100.3,374.3C101.1,375.5 101.9,377.8 102.8,379.4C103.6,380.9 104.3,382.5 105.3,383.6C106.3,384.6 107.4,385.1 108.6,385.6C109.9,386.0 111.4,386.0 112.8,386.1C114.2,386.1 115.6,386.1 117.0,386.1C118.4,386.1 119.8,386.1 121.2,386.1C122.6,386.0 123.8,385.8 125.4,385.6C126.9,385.4 128.7,385.2 130.4,384.9C132.1,384.6 133.8,384.3 135.4,383.9C137.1,383.4 138.8,382.7 140.5,382.2C142.1,381.7 145.6,381.2 145.5,381.0C145.4,380.9 140.1,381.7 140.0,381.5C139.9,381.4 143.4,380.4 145.0,380.2C146.7,380.0 148.4,380.3 150.1,380.2C151.7,380.1 153.4,380.1 155.1,379.9C156.8,379.6 158.4,379.2 160.1,378.9C161.8,378.5 163.5,378.2 165.1,377.7C166.8,377.2 168.5,376.6 170.2,376.0C171.8,375.5 173.5,374.8 175.2,374.3C176.9,373.9 178.5,373.7 180.2,373.5C181.9,373.3 183.6,373.2 185.2,373.2C186.9,373.1 188.6,373.1 190.3,373.2C191.9,373.2 193.6,373.2 195.3,373.5C197.0,373.8 198.6,374.4 200.3,374.8C202.0,375.3 203.7,375.7 205.3,376.0C207.0,376.3 208.7,376.7 210.4,376.9C212.0,377.0 213.7,377.0 215.4,377.2C217.1,377.3 218.7,377.6 220.4,377.7C222.1,377.8 223.8,377.8 225.4,377.7C227.1,377.6 228.8,377.5 230.5,377.2C232.1,376.9 234.4,376.3 235.5,376.0C236.5,375.7 236.0,375.7 236.7,375.2C237.5,374.6 239.2,372.1 240.1,372.7C240.9,373.2 241.3,374.8 241.8,378.5C242.2,382.3 242.5,388.4 242.8,395.3C243.0,402.2 242.9,407.5 243.0,420.0C243.1,432.5 243.1,450.3 243.1,470.0C243.1,489.7 242.7,526.7 243.2,538.0C243.7,549.3 245.6,549.3 246.1,538.0C246.6,526.7 246.2,488.0 246.2,470.0C246.2,452.0 246.1,439.7 246.3,430.0C246.5,420.3 247.0,417.0 247.3,412.0C247.6,407.1 247.8,403.8 248.1,400.3C248.5,396.8 248.8,393.5 249.5,391.1C250.1,388.7 250.9,387.5 251.8,386.1C252.7,384.7 253.8,383.7 255.2,382.7C256.5,381.7 258.2,380.7 260.2,379.9C262.1,379.0 264.6,378.2 266.9,377.7C269.1,377.1 271.3,376.8 273.6,376.5C275.8,376.2 278.0,376.1 280.3,376.0C282.5,375.9 285.0,375.9 287.0,376.0C288.9,376.1 290.3,376.2 292.0,376.5C293.7,376.8 295.4,377.2 297.0,377.7C298.7,378.2 300.4,378.8 302.1,379.4C303.7,379.9 305.4,380.5 307.1,381.0C308.8,381.6 310.4,382.2 312.1,382.7C313.8,383.2 315.6,384.0 317.1,383.9C318.7,383.7 320.0,382.6 321.3,381.9C322.6,381.1 323.7,380.1 325.0,379.4C326.3,378.7 327.8,377.5 329.2,377.7C330.6,377.8 332.0,379.3 333.4,380.2C334.8,381.1 336.2,382.6 337.6,383.2C339.0,383.8 340.4,384.2 341.8,383.9C343.1,383.5 344.5,382.2 345.9,381.0C347.3,379.9 348.9,378.0 350.1,377.2C351.4,376.3 352.4,375.9 353.5,376.0C354.6,376.1 355.6,377.0 356.8,377.7C358.1,378.4 359.6,379.5 361.0,380.2C362.4,380.9 363.8,381.5 365.2,381.9C366.6,382.2 368.0,382.4 369.4,382.2C370.8,382.1 372.3,381.5 373.6,381.0C374.8,380.6 375.8,379.6 376.9,379.4C378.0,379.1 379.2,378.9 380.3,379.4C381.4,379.8 382.2,381.1 383.6,381.9C385.0,382.6 387.0,383.4 388.7,383.9C390.3,384.4 392.0,384.5 393.7,384.9C395.4,385.3 397.2,385.4 398.7,386.1C400.2,386.7 401.7,388.0 402.9,388.6C404.1,389.1 404.8,389.8 405.7,389.4C406.7,389.0 407.7,387.3 408.8,386.1C409.8,384.8 411.0,383.0 412.1,381.9C413.2,380.8 414.3,379.9 415.5,379.4C416.6,378.8 417.7,378.5 418.8,378.5C419.9,378.5 421.1,378.9 422.2,379.4C423.2,379.8 424.5,380.8 425.0,381.0" fill="none" stroke="#3cbdec" stroke-width="1.1" stroke-linejoin="round" stroke-linecap="butt"/>
<path d="M59.5,419.0C60.4,420.0 63.2,423.0 65.0,425.0C66.8,427.0 68.3,429.2 70.0,431.0C71.7,432.8 73.5,434.2 75.0,436.0C76.5,437.8 77.9,439.6 79.0,442.0C80.1,444.4 80.9,447.3 81.8,450.4C82.7,453.4 83.5,456.8 84.3,460.4C85.2,464.1 86.0,468.0 86.9,472.2C87.7,476.3 88.6,481.1 89.4,485.6C90.1,490.0 90.8,494.5 91.5,499.0C92.2,503.4 92.9,508.2 93.6,512.4C94.2,516.5 94.7,520.4 95.2,524.1C95.7,527.7 96.2,531.8 96.6,534.1C96.9,536.4 97.0,536.0 97.2,538.0C97.5,540.0 97.8,545.3 98.0,546.0C98.2,546.7 98.3,543.3 98.5,542.0C98.7,540.7 98.7,540.1 98.9,538.0C99.1,535.8 99.3,532.8 99.6,529.1C99.9,525.4 100.2,520.7 100.6,515.7C101.0,510.7 101.4,504.0 101.9,499.0C102.4,493.9 103.0,489.2 103.6,485.6C104.2,481.9 104.8,479.3 105.6,477.2C106.4,475.1 107.4,473.8 108.3,473.0C109.2,472.2 110.2,472.6 111.1,472.5C112.1,472.3 113.0,472.8 114.0,472.2C115.0,471.5 115.9,470.0 117.0,468.8C118.1,467.6 119.3,466.0 120.4,465.1C121.4,464.2 122.4,463.4 123.4,463.4C124.3,463.5 125.3,464.4 126.2,465.5C127.2,466.5 128.1,468.1 129.1,469.6C130.0,471.2 131.0,473.0 132.1,474.7C133.1,476.3 134.3,478.0 135.4,479.7C136.5,481.4 137.7,483.0 138.8,484.7C139.9,486.4 141.0,488.2 142.1,489.7C143.2,491.3 144.4,492.9 145.5,493.9C146.6,495.0 147.5,495.8 148.8,495.9C150.1,496.1 152.1,495.7 153.4,494.8C154.7,493.9 155.6,491.8 156.8,490.6C157.9,489.3 159.0,487.8 160.1,487.2C161.2,486.6 162.3,486.5 163.5,486.9C164.6,487.3 165.7,489.0 166.8,489.7C167.9,490.5 169.0,491.7 170.2,491.4C171.3,491.1 172.4,489.3 173.5,488.1C174.6,486.9 175.8,485.0 176.9,484.2C177.9,483.4 178.9,482.8 179.9,483.0C180.8,483.3 181.8,484.2 182.7,485.6C183.6,486.9 184.4,488.9 185.2,491.4C186.1,493.9 186.9,497.8 187.7,500.6C188.6,503.4 189.4,506.4 190.3,508.2C191.1,509.9 191.9,510.7 192.8,511.0C193.6,511.3 194.4,510.7 195.3,509.8C196.1,508.9 196.9,507.0 197.8,505.7C198.7,504.3 199.7,502.4 200.6,501.5C201.6,500.5 202.6,499.9 203.7,499.8C204.7,499.6 205.7,499.9 206.7,500.6C207.6,501.3 208.5,502.8 209.5,504.0C210.5,505.1 211.7,506.8 212.9,507.7C214.0,508.5 215.2,509.2 216.2,509.0C217.2,508.8 218.1,507.6 219.1,506.5C220.0,505.4 221.1,503.5 222.1,502.3C223.1,501.1 224.1,499.7 225.1,499.3C226.1,498.9 227.0,499.0 227.9,499.8C228.8,500.6 229.6,502.4 230.5,504.0C231.3,505.5 232.1,507.5 233.0,509.0C233.8,510.5 234.6,512.4 235.5,513.2C236.3,514.0 237.3,514.7 238.0,514.0C238.7,513.3 239.3,511.5 239.7,509.0C240.2,506.5 240.6,503.1 240.9,499.0C241.2,494.8 241.5,489.2 241.8,483.9C242.0,478.6 242.3,472.7 242.6,467.1C242.9,461.5 243.1,455.2 243.4,450.4C243.8,445.5 244.3,439.6 244.8,438.0C245.3,436.4 245.7,438.9 246.2,441.0C246.7,443.1 247.1,446.0 247.6,450.4C248.1,454.7 248.7,462.4 249.3,467.1C249.8,471.9 250.3,475.5 251.0,478.9C251.7,482.2 252.6,484.7 253.5,487.2C254.3,489.7 255.2,491.7 256.0,493.9C256.8,496.2 257.7,498.4 258.5,500.6C259.3,502.9 260.2,505.2 261.0,507.3C261.9,509.4 262.6,511.2 263.5,513.2C264.4,515.1 265.6,517.4 266.5,519.1C267.5,520.7 268.5,522.0 269.4,523.2C270.3,524.5 271.1,525.5 271.9,526.6C272.7,527.7 273.6,528.7 274.4,529.9C275.3,531.1 276.2,532.7 276.9,533.8C277.7,534.9 278.3,535.4 278.9,536.6C279.6,537.8 280.2,540.3 281.0,541.0C281.8,541.7 282.6,541.9 283.5,541.0C284.4,540.1 285.4,537.8 286.1,535.8C286.9,533.8 287.3,531.3 287.8,529.1C288.4,526.9 288.8,524.6 289.5,522.4C290.2,520.2 291.2,517.6 292.0,515.7C292.8,513.8 293.6,512.1 294.5,511.0C295.4,509.9 296.4,509.3 297.4,509.0C298.3,508.7 299.5,508.9 300.4,509.3C301.3,509.8 302.1,510.9 302.9,511.5C303.7,512.2 304.6,513.3 305.4,513.2C306.2,513.0 306.7,512.2 307.4,510.7C308.1,509.1 308.9,506.5 309.6,504.0C310.3,501.5 311.0,498.3 311.8,495.6C312.5,492.9 313.4,490.0 314.1,488.1C314.9,486.1 315.5,484.9 316.3,483.9C317.1,482.9 318.0,482.2 318.8,482.2C319.6,482.2 320.5,483.2 321.3,483.9C322.2,484.6 323.0,485.5 323.8,486.4C324.6,487.2 325.3,487.7 326.0,489.0C326.7,490.3 327.3,493.5 328.0,494.0C328.7,494.5 329.4,493.4 330.0,492.3C330.6,491.1 331.0,489.2 331.7,487.2C332.4,485.3 333.2,482.8 334.2,480.5C335.2,478.3 336.4,475.5 337.6,473.8C338.7,472.2 339.8,470.8 340.9,470.5C342.0,470.2 343.1,470.9 344.3,472.2C345.4,473.4 346.5,476.1 347.6,478.0C348.7,480.0 349.8,482.4 351.0,483.9C352.1,485.4 353.2,486.9 354.3,486.9C355.4,486.9 356.5,485.5 357.7,483.9C358.8,482.3 359.9,479.1 361.0,477.2C362.1,475.3 363.2,473.4 364.4,472.5C365.5,471.6 366.6,471.3 367.7,471.8C368.8,472.3 370.1,473.9 371.1,475.5C372.0,477.1 372.9,479.3 373.6,481.4C374.3,483.5 374.7,485.7 375.3,488.1C375.8,490.4 376.3,492.1 376.6,495.6C376.9,499.1 377.1,506.2 377.3,509.0C377.4,511.8 377.3,517.9 377.4,512.4C377.6,506.8 378.0,486.4 378.3,475.5C378.5,464.6 378.6,449.8 378.9,447.0C379.3,444.2 379.6,455.8 380.3,458.8C380.9,461.7 381.7,463.2 382.8,464.6C383.9,466.0 385.4,466.5 387.0,467.1C388.5,467.8 390.6,468.2 392.0,468.5C393.4,468.7 394.1,469.0 395.4,468.8C396.6,468.6 398.3,467.7 399.5,467.1C400.8,466.6 401.8,465.5 402.9,465.5C404.0,465.5 405.1,465.9 406.2,467.1C407.4,468.4 408.6,470.9 409.6,473.0C410.6,475.1 411.3,477.6 412.1,479.7C412.9,481.8 413.8,484.0 414.6,485.6C415.5,487.1 416.3,489.0 417.1,489.2C418.0,489.5 418.8,488.4 419.6,487.2C420.5,486.1 421.5,483.6 422.2,482.2C422.9,480.8 423.3,479.8 423.8,478.9C424.3,477.9 424.9,476.8 425.2,476.3" fill="none" stroke="#1f2c6e" stroke-width="1.1" stroke-linejoin="round" stroke-linecap="butt" stroke-dasharray="5.5 2.3"/>
<path d="M59.5,422.0C59.9,423.0 61.1,425.8 62.0,428.0C62.9,430.2 64.0,432.8 65.0,435.0C66.0,437.2 67.1,439.2 68.0,441.0C68.9,442.8 69.7,443.9 70.5,446.0C71.3,448.1 72.0,451.0 72.6,453.7C73.2,456.4 73.7,459.3 74.3,462.1C74.8,464.9 75.4,467.8 76.0,470.5C76.5,473.1 77.0,475.8 77.6,478.0C78.3,480.2 79.1,482.5 79.8,483.9C80.5,485.3 81.1,486.1 81.8,486.4C82.6,486.7 83.5,486.4 84.3,485.6C85.2,484.7 85.9,482.4 86.9,481.4C87.8,480.3 89.1,479.6 90.2,479.2C91.3,478.8 92.4,479.0 93.6,478.9C94.7,478.7 95.9,478.1 96.9,478.5C97.9,478.9 98.6,480.1 99.4,481.4C100.2,482.7 100.9,485.0 101.6,486.4C102.3,487.8 102.8,489.5 103.6,489.7C104.4,490.0 105.3,488.9 106.1,488.1C107.0,487.2 107.8,485.7 108.6,484.7C109.5,483.7 110.4,482.6 111.1,482.2C111.9,481.8 112.6,481.6 113.3,482.2C114.1,482.8 114.8,484.3 115.7,485.6C116.5,486.8 117.5,488.9 118.3,489.7C119.2,490.6 119.8,490.9 120.7,490.6C121.5,490.3 122.4,489.0 123.4,488.1C124.3,487.1 125.3,485.9 126.2,484.7C127.2,483.5 128.1,482.0 129.1,480.9C130.0,479.7 131.2,478.6 132.1,478.0C133.0,477.5 133.8,477.4 134.6,477.5C135.4,477.7 136.3,478.1 137.1,478.9C137.9,479.6 138.7,481.1 139.6,481.9C140.5,482.6 141.6,483.6 142.5,483.5C143.4,483.5 144.2,482.4 145.0,481.4C145.9,480.3 146.7,478.4 147.5,477.2C148.4,475.9 149.2,474.6 150.1,473.8C150.9,473.1 151.7,472.5 152.6,472.7C153.4,472.8 154.2,473.4 155.1,474.7C155.9,476.0 156.8,478.3 157.6,480.5C158.4,482.8 159.1,485.3 159.8,488.1C160.5,490.9 161.2,494.1 161.8,497.3C162.4,500.5 162.9,504.0 163.5,507.3C164.0,510.7 164.6,514.0 165.1,517.4C165.7,520.7 166.2,524.9 166.8,527.4C167.4,529.9 167.9,531.9 168.5,532.5C169.0,533.0 169.5,532.2 170.2,530.8C170.8,529.4 171.5,525.8 172.2,524.1C172.9,522.4 173.6,520.9 174.3,520.7C175.1,520.6 175.8,522.3 176.5,523.2C177.2,524.2 177.8,525.5 178.5,526.6C179.3,527.7 180.3,529.2 181.0,529.9C181.8,530.6 182.5,531.1 183.2,530.8C183.9,530.5 184.6,528.7 185.2,528.3C185.9,527.8 186.6,527.6 187.2,528.3C187.9,529.0 188.4,531.1 188.9,532.5C189.5,533.8 190.1,535.7 190.6,536.6C191.1,537.6 191.2,536.8 191.9,538.0C192.7,539.2 193.7,542.7 195.0,544.0C196.3,545.3 198.4,547.0 200.0,546.0C201.6,545.0 203.4,539.8 204.5,538.0C205.6,536.2 206.0,535.0 206.7,535.0C207.4,535.0 207.8,536.2 208.7,538.0C209.6,539.8 210.9,545.0 212.0,546.0C213.1,547.0 214.6,545.3 215.5,544.0C216.4,542.7 216.9,540.2 217.4,538.0C217.9,535.8 217.9,533.7 218.4,530.8C218.8,527.9 219.5,523.8 220.1,520.7C220.6,517.7 221.1,514.9 221.7,512.4C222.4,509.8 223.0,507.5 223.8,505.7C224.5,503.8 225.4,502.6 226.3,501.5C227.1,500.3 227.9,499.9 228.8,499.0C229.6,498.0 230.5,496.9 231.3,495.6C232.1,494.3 233.0,493.4 233.8,491.4C234.6,489.5 235.3,486.8 235.8,483.9C236.4,480.9 236.7,477.7 237.2,473.8C237.6,469.9 238.1,464.6 238.5,460.4C238.9,456.2 239.2,451.9 239.7,448.7C240.1,445.5 240.8,443.6 241.4,441.0C242.0,438.4 242.7,434.7 243.2,433.0C243.7,431.3 244.0,430.8 244.4,431.0C244.8,431.2 245.1,431.3 245.5,434.0C245.9,436.7 246.2,442.9 246.6,447.0C247.0,451.1 247.2,454.8 247.6,458.8C248.0,462.7 248.4,466.8 248.8,470.5C249.2,474.1 249.6,479.0 250.1,480.5C250.6,482.1 251.1,480.4 251.8,479.7C252.5,479.0 253.5,477.0 254.3,476.3C255.2,475.6 256.0,475.5 256.8,475.5C257.7,475.5 258.5,475.8 259.3,476.3C260.2,476.9 261.0,477.7 261.9,478.9C262.7,480.0 263.5,481.4 264.4,483.0C265.2,484.7 266.0,486.9 266.9,488.9C267.7,490.9 268.6,493.1 269.4,494.8C270.2,496.4 270.9,497.8 271.9,498.6C272.9,499.5 274.1,499.7 275.3,499.8C276.4,499.9 277.5,499.6 278.6,499.3C279.7,499.0 281.0,498.7 282.0,498.1C282.9,497.5 283.6,496.9 284.5,495.6C285.3,494.3 286.1,492.3 287.0,490.6C287.8,488.9 288.7,486.8 289.5,485.6C290.3,484.3 291.2,483.6 292.0,483.0C292.8,482.5 293.3,482.1 294.0,482.2C294.7,482.3 295.5,482.9 296.2,483.9C296.9,484.9 297.7,486.1 298.4,488.1C299.1,490.0 299.8,492.9 300.4,495.6C301.0,498.3 301.5,501.6 302.1,504.0C302.6,506.3 303.2,508.3 303.7,509.8C304.3,511.4 304.8,512.5 305.4,513.2C306.0,513.9 306.5,514.4 307.1,514.0C307.6,513.6 308.2,512.4 308.8,510.7C309.3,509.0 309.9,505.8 310.4,504.0C311.0,502.2 311.4,500.5 312.1,499.8C312.8,499.0 313.8,499.0 314.5,499.5C315.2,500.0 315.9,500.9 316.5,502.5C317.1,504.1 317.8,506.8 318.2,509.0C318.6,511.2 318.8,513.3 319.0,516.0C319.2,518.7 319.5,527.7 319.7,525.0C319.9,522.3 320.1,510.0 320.3,500.0C320.5,490.0 320.7,473.8 320.9,465.0C321.1,456.2 321.1,448.7 321.5,447.0C321.9,445.3 322.9,452.0 323.5,455.0C324.1,458.0 324.5,462.0 325.0,465.0C325.5,468.0 325.9,470.3 326.5,473.0C327.1,475.7 327.8,479.0 328.5,481.0C329.2,483.0 329.8,484.2 330.5,485.0C331.2,485.8 331.9,486.1 333.0,486.0C334.1,485.9 335.7,485.0 337.0,484.5C338.3,484.0 339.8,483.1 341.0,483.0C342.2,482.9 343.1,483.3 344.0,484.0C344.9,484.7 345.6,485.2 346.5,487.0C347.4,488.8 348.4,492.2 349.3,494.8C350.2,497.3 351.0,499.8 351.8,502.3C352.6,504.8 353.5,507.5 354.3,509.8C355.2,512.2 356.0,514.7 356.8,516.5C357.7,518.4 358.6,520.7 359.3,520.7C360.1,520.7 360.8,518.4 361.5,516.5C362.3,514.7 363.0,511.5 363.9,509.8C364.7,508.2 365.6,506.9 366.5,506.5C367.5,506.1 368.4,506.8 369.4,507.3C370.3,507.9 371.3,509.1 372.2,509.8C373.2,510.5 374.0,511.1 374.9,511.5C375.8,511.9 376.8,512.2 377.8,512.4C378.7,512.5 379.8,512.8 380.6,512.4C381.4,511.9 382.2,511.4 382.8,509.8C383.3,508.3 383.5,504.8 384.0,503.1C384.4,501.5 384.8,499.9 385.3,499.8C385.8,499.6 386.4,500.8 387.0,502.3C387.5,503.8 388.0,506.5 388.7,509.0C389.3,511.5 390.0,514.6 390.7,517.4C391.4,520.2 392.1,523.1 392.8,525.8C393.6,528.4 394.4,531.3 395.0,533.3C395.7,535.3 396.0,535.9 396.7,538.0C397.4,540.1 397.6,543.7 399.0,546.0C400.4,548.3 403.0,551.7 405.0,552.0C407.0,552.3 409.5,549.5 411.0,548.0C412.5,546.5 413.3,544.7 414.0,543.0C414.7,541.3 415.0,540.0 415.5,538.0C415.9,535.9 416.3,533.7 416.8,530.8C417.3,527.9 417.9,523.8 418.5,520.7C419.0,517.7 419.5,515.1 420.1,512.4C420.8,509.6 421.5,506.1 422.2,504.0C422.8,501.9 423.3,500.9 423.8,499.8C424.3,498.7 424.9,497.7 425.2,497.3" fill="none" stroke="#22b5ea" stroke-width="3.0" stroke-linejoin="round" stroke-linecap="butt" stroke-dasharray="1.9 1.2"/>
<path d="M59.5,422.0C59.9,423.0 61.1,425.8 62.0,428.0C62.9,430.2 64.0,432.8 65.0,435.0C66.0,437.2 67.1,439.2 68.0,441.0C68.9,442.8 69.7,443.9 70.5,446.0C71.3,448.1 72.0,451.0 72.6,453.7C73.2,456.4 73.7,459.3 74.3,462.1C74.8,464.9 75.4,467.8 76.0,470.5C76.5,473.1 77.0,475.8 77.6,478.0C78.3,480.2 79.1,482.5 79.8,483.9C80.5,485.3 81.1,486.1 81.8,486.4C82.6,486.7 83.5,486.4 84.3,485.6C85.2,484.7 85.9,482.4 86.9,481.4C87.8,480.3 89.1,479.6 90.2,479.2C91.3,478.8 92.4,479.0 93.6,478.9C94.7,478.7 95.9,478.1 96.9,478.5C97.9,478.9 98.6,480.1 99.4,481.4C100.2,482.7 100.9,485.0 101.6,486.4C102.3,487.8 102.8,489.5 103.6,489.7C104.4,490.0 105.3,488.9 106.1,488.1C107.0,487.2 107.8,485.7 108.6,484.7C109.5,483.7 110.4,482.6 111.1,482.2C111.9,481.8 112.6,481.6 113.3,482.2C114.1,482.8 114.8,484.3 115.7,485.6C116.5,486.8 117.5,488.9 118.3,489.7C119.2,490.6 119.8,490.9 120.7,490.6C121.5,490.3 122.4,489.0 123.4,488.1C124.3,487.1 125.3,485.9 126.2,484.7C127.2,483.5 128.1,482.0 129.1,480.9C130.0,479.7 131.2,478.6 132.1,478.0C133.0,477.5 133.8,477.4 134.6,477.5C135.4,477.7 136.3,478.1 137.1,478.9C137.9,479.6 138.7,481.1 139.6,481.9C140.5,482.6 141.6,483.6 142.5,483.5C143.4,483.5 144.2,482.4 145.0,481.4C145.9,480.3 146.7,478.4 147.5,477.2C148.4,475.9 149.2,474.6 150.1,473.8C150.9,473.1 151.7,472.5 152.6,472.7C153.4,472.8 154.2,473.4 155.1,474.7C155.9,476.0 156.8,478.3 157.6,480.5C158.4,482.8 159.1,485.3 159.8,488.1C160.5,490.9 161.2,494.1 161.8,497.3C162.4,500.5 162.9,504.0 163.5,507.3C164.0,510.7 164.6,514.0 165.1,517.4C165.7,520.7 166.2,524.9 166.8,527.4C167.4,529.9 167.9,531.9 168.5,532.5C169.0,533.0 169.5,532.2 170.2,530.8C170.8,529.4 171.5,525.8 172.2,524.1C172.9,522.4 173.6,520.9 174.3,520.7C175.1,520.6 175.8,522.3 176.5,523.2C177.2,524.2 177.8,525.5 178.5,526.6C179.3,527.7 180.3,529.2 181.0,529.9C181.8,530.6 182.5,531.1 183.2,530.8C183.9,530.5 184.6,528.7 185.2,528.3C185.9,527.8 186.6,527.6 187.2,528.3C187.9,529.0 188.4,531.1 188.9,532.5C189.5,533.8 190.1,535.7 190.6,536.6C191.1,537.6 191.2,536.8 191.9,538.0C192.7,539.2 193.7,542.7 195.0,544.0C196.3,545.3 198.4,547.0 200.0,546.0C201.6,545.0 203.4,539.8 204.5,538.0C205.6,536.2 206.0,535.0 206.7,535.0C207.4,535.0 207.8,536.2 208.7,538.0C209.6,539.8 210.9,545.0 212.0,546.0C213.1,547.0 214.6,545.3 215.5,544.0C216.4,542.7 216.9,540.2 217.4,538.0C217.9,535.8 217.9,533.7 218.4,530.8C218.8,527.9 219.5,523.8 220.1,520.7C220.6,517.7 221.1,514.9 221.7,512.4C222.4,509.8 223.0,507.5 223.8,505.7C224.5,503.8 225.4,502.6 226.3,501.5C227.1,500.3 227.9,499.9 228.8,499.0C229.6,498.0 230.5,496.9 231.3,495.6C232.1,494.3 233.0,493.4 233.8,491.4C234.6,489.5 235.3,486.8 235.8,483.9C236.4,480.9 236.7,477.7 237.2,473.8C237.6,469.9 238.1,464.6 238.5,460.4C238.9,456.2 239.2,451.9 239.7,448.7C240.1,445.5 240.8,443.6 241.4,441.0C242.0,438.4 242.7,434.7 243.2,433.0C243.7,431.3 244.0,430.8 244.4,431.0C244.8,431.2 245.1,431.3 245.5,434.0C245.9,436.7 246.2,442.9 246.6,447.0C247.0,451.1 247.2,454.8 247.6,458.8C248.0,462.7 248.4,466.8 248.8,470.5C249.2,474.1 249.6,479.0 250.1,480.5C250.6,482.1 251.1,480.4 251.8,479.7C252.5,479.0 253.5,477.0 254.3,476.3C255.2,475.6 256.0,475.5 256.8,475.5C257.7,475.5 258.5,475.8 259.3,476.3C260.2,476.9 261.0,477.7 261.9,478.9C262.7,480.0 263.5,481.4 264.4,483.0C265.2,484.7 266.0,486.9 266.9,488.9C267.7,490.9 268.6,493.1 269.4,494.8C270.2,496.4 270.9,497.8 271.9,498.6C272.9,499.5 274.1,499.7 275.3,499.8C276.4,499.9 277.5,499.6 278.6,499.3C279.7,499.0 281.0,498.7 282.0,498.1C282.9,497.5 283.6,496.9 284.5,495.6C285.3,494.3 286.1,492.3 287.0,490.6C287.8,488.9 288.7,486.8 289.5,485.6C290.3,484.3 291.2,483.6 292.0,483.0C292.8,482.5 293.3,482.1 294.0,482.2C294.7,482.3 295.5,482.9 296.2,483.9C296.9,484.9 297.7,486.1 298.4,488.1C299.1,490.0 299.8,492.9 300.4,495.6C301.0,498.3 301.5,501.6 302.1,504.0C302.6,506.3 303.2,508.3 303.7,509.8C304.3,511.4 304.8,512.5 305.4,513.2C306.0,513.9 306.5,514.4 307.1,514.0C307.6,513.6 308.2,512.4 308.8,510.7C309.3,509.0 309.9,505.8 310.4,504.0C311.0,502.2 311.4,500.5 312.1,499.8C312.8,499.0 313.8,499.0 314.5,499.5C315.2,500.0 315.9,500.9 316.5,502.5C317.1,504.1 317.8,506.8 318.2,509.0C318.6,511.2 318.8,513.3 319.0,516.0C319.2,518.7 319.5,527.7 319.7,525.0C319.9,522.3 320.1,510.0 320.3,500.0C320.5,490.0 320.7,473.8 320.9,465.0C321.1,456.2 321.1,448.7 321.5,447.0C321.9,445.3 322.9,452.0 323.5,455.0C324.1,458.0 324.5,462.0 325.0,465.0C325.5,468.0 325.9,470.3 326.5,473.0C327.1,475.7 327.8,479.0 328.5,481.0C329.2,483.0 329.8,484.2 330.5,485.0C331.2,485.8 331.9,486.1 333.0,486.0C334.1,485.9 335.7,485.0 337.0,484.5C338.3,484.0 339.8,483.1 341.0,483.0C342.2,482.9 343.1,483.3 344.0,484.0C344.9,484.7 345.6,485.2 346.5,487.0C347.4,488.8 348.4,492.2 349.3,494.8C350.2,497.3 351.0,499.8 351.8,502.3C352.6,504.8 353.5,507.5 354.3,509.8C355.2,512.2 356.0,514.7 356.8,516.5C357.7,518.4 358.6,520.7 359.3,520.7C360.1,520.7 360.8,518.4 361.5,516.5C362.3,514.7 363.0,511.5 363.9,509.8C364.7,508.2 365.6,506.9 366.5,506.5C367.5,506.1 368.4,506.8 369.4,507.3C370.3,507.9 371.3,509.1 372.2,509.8C373.2,510.5 374.0,511.1 374.9,511.5C375.8,511.9 376.8,512.2 377.8,512.4C378.7,512.5 379.8,512.8 380.6,512.4C381.4,511.9 382.2,511.4 382.8,509.8C383.3,508.3 383.5,504.8 384.0,503.1C384.4,501.5 384.8,499.9 385.3,499.8C385.8,499.6 386.4,500.8 387.0,502.3C387.5,503.8 388.0,506.5 388.7,509.0C389.3,511.5 390.0,514.6 390.7,517.4C391.4,520.2 392.1,523.1 392.8,525.8C393.6,528.4 394.4,531.3 395.0,533.3C395.7,535.3 396.0,535.9 396.7,538.0C397.4,540.1 397.6,543.7 399.0,546.0C400.4,548.3 403.0,551.7 405.0,552.0C407.0,552.3 409.5,549.5 411.0,548.0C412.5,546.5 413.3,544.7 414.0,543.0C414.7,541.3 415.0,540.0 415.5,538.0C415.9,535.9 416.3,533.7 416.8,530.8C417.3,527.9 417.9,523.8 418.5,520.7C419.0,517.7 419.5,515.1 420.1,512.4C420.8,509.6 421.5,506.1 422.2,504.0C422.8,501.9 423.3,500.9 423.8,499.8C424.3,498.7 424.9,497.7 425.2,497.3" fill="none" stroke="#0a1a55" stroke-width="2.3" stroke-linejoin="round" stroke-linecap="butt" stroke-dasharray="3.3 2.5"/>
</g>
<rect x="477.3" y="18.3" width="120.2" height="181.2" fill="#fff" stroke="#222" stroke-width="1.2"/>
<line x1="484.3" x2="505.8" y1="31.75" y2="31.75" stroke="#0b1560" stroke-width="2.6"/>
<text x="507.8" y="35.15" font-size="10.15">S21 (port R)</text>
<line x1="484.3" x2="505.8" y1="57.75" y2="57.75" stroke="#1fb4e6" stroke-width="2.6"/>
<text x="507.8" y="61.15" font-size="10.15">S21 (port L)</text>
<line x1="484.3" x2="505.8" y1="83.5" y2="83.5" stroke="#1f2a78" stroke-width="1.1"/>
<text x="507.8" y="86.9" font-size="10.15">S21 (Simulation_R)</text>
<line x1="484.3" x2="505.8" y1="109.5" y2="109.5" stroke="#35bce8" stroke-width="1.1"/>
<text x="507.8" y="112.9" font-size="10.15">S21 (Simulation_L)</text>
<line x1="484.3" x2="505.8" y1="135.75" y2="135.75" stroke="#0a1f55" stroke-width="2.4" stroke-dasharray="6 2"/>
<text x="507.8" y="139.15" font-size="10.15">S11 (port R)</text>
<line x1="484.3" x2="505.8" y1="161.25" y2="161.25" stroke="#1fb4e6" stroke-width="2.5" stroke-dasharray="1.9 1.5"/>
<text x="507.8" y="164.65" font-size="10.15">S11 (port L)</text>
<line x1="484.3" x2="505.8" y1="187" y2="187" stroke="#5a62a8" stroke-width="1.3" stroke-dasharray="5 2"/>
<text x="507.8" y="190.4" font-size="10.15">S11 (Simulation)</text>
<rect x="479.4" y="311" width="118.4" height="181.5" fill="#fff" stroke="#222" stroke-width="1.2"/>
<line x1="486.4" x2="507.9" y1="324.5" y2="324.5" stroke="#0b1560" stroke-width="2.6"/>
<text x="509.9" y="327.9" font-size="10.15">S21 (port R)</text>
<line x1="486.4" x2="507.9" y1="350.3" y2="350.3" stroke="#1fb4e6" stroke-width="2.6"/>
<text x="509.9" y="353.7" font-size="10.15">S21 (port L)</text>
<line x1="486.4" x2="507.9" y1="376.2" y2="376.2" stroke="#1f2a78" stroke-width="1.1"/>
<text x="509.9" y="379.59999999999997" font-size="10.15">S21 (Simulation_R)</text>
<line x1="486.4" x2="507.9" y1="402" y2="402" stroke="#35bce8" stroke-width="1.1"/>
<text x="509.9" y="405.4" font-size="10.15">S21 (Simulation_L)</text>
<line x1="486.4" x2="507.9" y1="427.8" y2="427.8" stroke="#0a1f55" stroke-width="2.4" stroke-dasharray="6 2"/>
<text x="509.9" y="431.2" font-size="10.15">S11 (port R)</text>
<line x1="486.4" x2="507.9" y1="453.5" y2="453.5" stroke="#1fb4e6" stroke-width="2.5" stroke-dasharray="1.9 1.5"/>
<text x="509.9" y="456.9" font-size="10.15">S11 (port L)</text>
<line x1="486.4" x2="507.9" y1="479.3" y2="479.3" stroke="#5a62a8" stroke-width="1.3" stroke-dasharray="5 2"/>
<text x="509.9" y="482.7" font-size="10.15">S11 (Simulation)</text>
</svg></body></html>
